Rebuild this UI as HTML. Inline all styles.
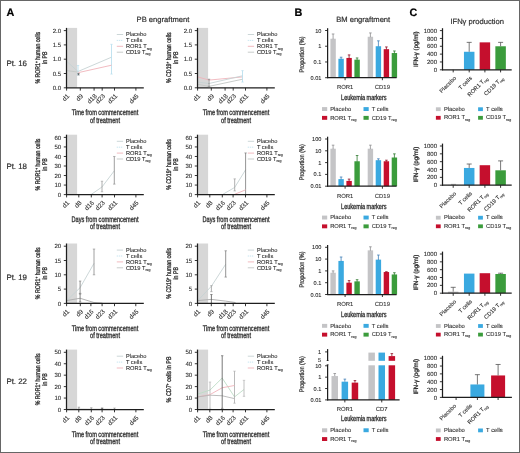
<!DOCTYPE html>
<html><head><meta charset="utf-8"><style>
html,body{margin:0;padding:0;background:#fff;}
#fig{position:relative;width:520px;height:453px;overflow:hidden;box-sizing:border-box;border:1px solid #666666;}
svg{position:absolute;left:-1px;top:-1px;font-family:"Liberation Sans", sans-serif;will-change:transform;text-rendering:geometricPrecision;}
</style></head><body><div id="fig">
<svg width="520" height="453" viewBox="0 0 520 453">
<rect x="0" y="0" width="520" height="453" fill="#ffffff"/>
<text x="6.40" y="15.60" font-size="10.8" text-anchor="start" fill="#000" stroke="#000" stroke-width="0.2" font-weight="bold" >A</text>
<text x="294.40" y="15.60" font-size="10.8" text-anchor="start" fill="#000" stroke="#000" stroke-width="0.2" font-weight="bold" >B</text>
<text x="409.60" y="15.60" font-size="10.8" text-anchor="start" fill="#000" stroke="#000" stroke-width="0.2" font-weight="bold" >C</text>
<text x="163.00" y="21.50" font-size="7.6" text-anchor="middle" fill="#303030" stroke="#303030" stroke-width="0.2" font-weight="normal" >PB engraftment</text>
<text x="363.20" y="21.50" font-size="7.6" text-anchor="middle" fill="#303030" stroke="#303030" stroke-width="0.2" font-weight="normal" >BM engraftment</text>
<text x="477.20" y="23.50" font-size="7.6" text-anchor="middle" fill="#303030" stroke="#303030" stroke-width="0.2" font-weight="normal" >IFNγ production</text>
<text x="6.40" y="65.85" font-size="7.9" text-anchor="start" fill="#303030" stroke="#303030" stroke-width="0.2" font-weight="normal" >Pt. 16</text>
<text x="6.40" y="168.85" font-size="7.9" text-anchor="start" fill="#303030" stroke="#303030" stroke-width="0.2" font-weight="normal" >Pt. 18</text>
<text x="6.40" y="280.40" font-size="7.9" text-anchor="start" fill="#303030" stroke="#303030" stroke-width="0.2" font-weight="normal" >Pt. 19</text>
<text x="6.40" y="384.40" font-size="7.9" text-anchor="start" fill="#303030" stroke="#303030" stroke-width="0.2" font-weight="normal" >Pt. 22</text>
<rect x="66.50" y="27.90" width="10.60" height="59.90" fill="#d7d7d7"/>
<polyline points="66.80,61.49 78.00,71.50 111.50,57.20" fill="none" stroke="#c6d2d4" stroke-width="0.9" />
<line x1="111.50" y1="74.07" x2="111.50" y2="44.33" stroke="#b3dcec" stroke-width="0.8" />
<line x1="110.30" y1="44.33" x2="112.70" y2="44.33" stroke="#b3dcec" stroke-width="0.6" />
<line x1="110.30" y1="74.07" x2="112.70" y2="74.07" stroke="#b3dcec" stroke-width="0.6" />
<line x1="78.00" y1="74.93" x2="78.00" y2="65.49" stroke="#b3dcec" stroke-width="0.8" />
<line x1="76.80" y1="65.49" x2="79.20" y2="65.49" stroke="#b3dcec" stroke-width="0.6" />
<line x1="76.80" y1="74.93" x2="79.20" y2="74.93" stroke="#b3dcec" stroke-width="0.6" />
<polyline points="78.30,72.64 111.50,65.21" fill="none" stroke="#efb3ba" stroke-width="0.9" />
<polyline points="66.80,70.64 78.00,72.07" fill="none" stroke="#c3c7c5" stroke-width="0.9" />
<line x1="78.50" y1="74.93" x2="78.50" y2="73.50" stroke="#555" stroke-width="0.8" />
<line x1="77.30" y1="73.50" x2="79.70" y2="73.50" stroke="#555" stroke-width="0.6" />
<line x1="77.30" y1="74.93" x2="79.70" y2="74.93" stroke="#555" stroke-width="0.6" />
<line x1="66.50" y1="27.90" x2="66.50" y2="88.30" stroke="#1e1e1e" stroke-width="1.25" />
<line x1="66.00" y1="87.80" x2="143.80" y2="87.80" stroke="#1e1e1e" stroke-width="1.25" />
<line x1="63.80" y1="87.80" x2="66.50" y2="87.80" stroke="#1e1e1e" stroke-width="0.9" />
<text x="61.20" y="89.95" font-size="6.1" text-anchor="end" fill="#303030" stroke="#303030" stroke-width="0.1" font-weight="normal" >0.0</text>
<line x1="63.80" y1="73.50" x2="66.50" y2="73.50" stroke="#1e1e1e" stroke-width="0.9" />
<text x="61.20" y="75.65" font-size="6.1" text-anchor="end" fill="#303030" stroke="#303030" stroke-width="0.1" font-weight="normal" >0.5</text>
<line x1="63.80" y1="59.20" x2="66.50" y2="59.20" stroke="#1e1e1e" stroke-width="0.9" />
<text x="61.20" y="61.35" font-size="6.1" text-anchor="end" fill="#303030" stroke="#303030" stroke-width="0.1" font-weight="normal" >1.0</text>
<line x1="63.80" y1="44.90" x2="66.50" y2="44.90" stroke="#1e1e1e" stroke-width="0.9" />
<text x="61.20" y="47.05" font-size="6.1" text-anchor="end" fill="#303030" stroke="#303030" stroke-width="0.1" font-weight="normal" >1.5</text>
<line x1="63.80" y1="30.60" x2="66.50" y2="30.60" stroke="#1e1e1e" stroke-width="0.9" />
<text x="61.20" y="32.75" font-size="6.1" text-anchor="end" fill="#303030" stroke="#303030" stroke-width="0.1" font-weight="normal" >2.0</text>
<line x1="66.60" y1="87.80" x2="66.60" y2="90.60" stroke="#1e1e1e" stroke-width="0.9" />
<text transform="translate(69.80,96.50) rotate(-45) scale(1.0,1)" font-size="6.3" text-anchor="end" fill="#303030" stroke="#303030" stroke-width="0.1">d1</text>
<line x1="80.30" y1="87.80" x2="80.30" y2="90.60" stroke="#1e1e1e" stroke-width="0.9" />
<text transform="translate(83.50,96.50) rotate(-45) scale(1.0,1)" font-size="6.3" text-anchor="end" fill="#303030" stroke="#303030" stroke-width="0.1">d9</text>
<line x1="94.10" y1="87.80" x2="94.10" y2="90.60" stroke="#1e1e1e" stroke-width="0.9" />
<text transform="translate(97.30,96.50) rotate(-45) scale(1.0,1)" font-size="6.3" text-anchor="end" fill="#303030" stroke="#303030" stroke-width="0.1">d18</text>
<line x1="102.20" y1="87.80" x2="102.20" y2="90.60" stroke="#1e1e1e" stroke-width="0.9" />
<text transform="translate(105.40,96.50) rotate(-45) scale(1.0,1)" font-size="6.3" text-anchor="end" fill="#303030" stroke="#303030" stroke-width="0.1">d23</text>
<line x1="114.50" y1="87.80" x2="114.50" y2="90.60" stroke="#1e1e1e" stroke-width="0.9" />
<text transform="translate(117.70,96.50) rotate(-45) scale(1.0,1)" font-size="6.3" text-anchor="end" fill="#303030" stroke="#303030" stroke-width="0.1">d31</text>
<line x1="135.90" y1="87.80" x2="135.90" y2="90.60" stroke="#1e1e1e" stroke-width="0.9" />
<text transform="translate(139.10,96.50) rotate(-45) scale(1.0,1)" font-size="6.3" text-anchor="end" fill="#303030" stroke="#303030" stroke-width="0.1">d45</text>
<text transform="translate(105.00,115.10) scale(0.7,1)" font-size="8" text-anchor="middle" fill="#303030" stroke="#303030" stroke-width="0.34" font-weight="normal" >Time from commencement</text>
<text transform="translate(105.00,122.50) scale(0.7,1)" font-size="8" text-anchor="middle" fill="#303030" stroke="#303030" stroke-width="0.34" font-weight="normal" >of treatment</text>
<text transform="translate(39.90,57.70) rotate(-90) scale(0.77,1)" font-size="6.8" text-anchor="middle" fill="#303030" stroke="#303030" stroke-width="0.34">% ROR1<tspan font-size="4" dy="-2">+</tspan><tspan dy="2"> human cells</tspan></text>
<text transform="translate(46.90,57.70) rotate(-90) scale(0.77,1)" font-size="6.8" text-anchor="middle" fill="#303030" stroke="#303030" stroke-width="0.34">in PB</text>
<line x1="116.80" y1="34.50" x2="123.10" y2="34.50" stroke="#c6d2d4" stroke-width="0.9" />
<text x="125.90" y="36.40" font-size="5.7" text-anchor="start" fill="#303030" stroke="#303030" stroke-width="0.1" font-weight="normal" >Placebo</text>
<line x1="116.80" y1="40.40" x2="123.10" y2="40.40" stroke="#b3dcec" stroke-width="0.9" stroke-dasharray="1,1"/>
<text x="125.90" y="42.30" font-size="5.7" text-anchor="start" fill="#303030" stroke="#303030" stroke-width="0.1" font-weight="normal" >T cells</text>
<line x1="116.80" y1="46.30" x2="123.10" y2="46.30" stroke="#efb3ba" stroke-width="0.9" />
<text x="125.90" y="48.20" font-size="5.7" text-anchor="start" fill="#303030" stroke="#303030" stroke-width="0.1" font-weight="normal" >ROR1 T<tspan font-size="3.6" dy="1.3">reg</tspan></text>
<line x1="116.80" y1="52.20" x2="123.10" y2="52.20" stroke="#c3c7c5" stroke-width="0.9" />
<text x="125.90" y="54.10" font-size="5.7" text-anchor="start" fill="#303030" stroke="#303030" stroke-width="0.1" font-weight="normal" >CD19 T<tspan font-size="3.6" dy="1.3">reg</tspan></text>
<rect x="197.50" y="27.90" width="10.60" height="59.90" fill="#d7d7d7"/>
<polyline points="197.80,76.93 209.00,80.08 242.50,76.93" fill="none" stroke="#efb3ba" stroke-width="0.9" />
<polyline points="197.80,82.08 209.00,83.51 242.50,75.79" fill="none" stroke="#c6d2d4" stroke-width="0.9" />
<line x1="242.50" y1="82.08" x2="242.50" y2="70.64" stroke="#b3dcec" stroke-width="0.8" />
<line x1="241.30" y1="70.64" x2="243.70" y2="70.64" stroke="#b3dcec" stroke-width="0.6" />
<line x1="241.30" y1="82.08" x2="243.70" y2="82.08" stroke="#b3dcec" stroke-width="0.6" />
<polyline points="197.80,84.37 209.00,86.37 242.50,79.22" fill="none" stroke="#c3c7c5" stroke-width="0.9" />
<line x1="209.00" y1="86.37" x2="209.00" y2="79.22" stroke="#777" stroke-width="0.8" />
<line x1="207.80" y1="79.22" x2="210.20" y2="79.22" stroke="#777" stroke-width="0.6" />
<line x1="207.80" y1="86.37" x2="210.20" y2="86.37" stroke="#777" stroke-width="0.6" />
<line x1="197.50" y1="27.90" x2="197.50" y2="88.30" stroke="#1e1e1e" stroke-width="1.25" />
<line x1="197.00" y1="87.80" x2="274.80" y2="87.80" stroke="#1e1e1e" stroke-width="1.25" />
<line x1="194.80" y1="87.80" x2="197.50" y2="87.80" stroke="#1e1e1e" stroke-width="0.9" />
<text x="192.20" y="89.95" font-size="6.1" text-anchor="end" fill="#303030" stroke="#303030" stroke-width="0.1" font-weight="normal" >0.0</text>
<line x1="194.80" y1="73.50" x2="197.50" y2="73.50" stroke="#1e1e1e" stroke-width="0.9" />
<text x="192.20" y="75.65" font-size="6.1" text-anchor="end" fill="#303030" stroke="#303030" stroke-width="0.1" font-weight="normal" >0.5</text>
<line x1="194.80" y1="59.20" x2="197.50" y2="59.20" stroke="#1e1e1e" stroke-width="0.9" />
<text x="192.20" y="61.35" font-size="6.1" text-anchor="end" fill="#303030" stroke="#303030" stroke-width="0.1" font-weight="normal" >1.0</text>
<line x1="194.80" y1="44.90" x2="197.50" y2="44.90" stroke="#1e1e1e" stroke-width="0.9" />
<text x="192.20" y="47.05" font-size="6.1" text-anchor="end" fill="#303030" stroke="#303030" stroke-width="0.1" font-weight="normal" >1.5</text>
<line x1="194.80" y1="30.60" x2="197.50" y2="30.60" stroke="#1e1e1e" stroke-width="0.9" />
<text x="192.20" y="32.75" font-size="6.1" text-anchor="end" fill="#303030" stroke="#303030" stroke-width="0.1" font-weight="normal" >2.0</text>
<line x1="197.60" y1="87.80" x2="197.60" y2="90.60" stroke="#1e1e1e" stroke-width="0.9" />
<text transform="translate(200.80,96.50) rotate(-45) scale(1.0,1)" font-size="6.3" text-anchor="end" fill="#303030" stroke="#303030" stroke-width="0.1">d1</text>
<line x1="211.30" y1="87.80" x2="211.30" y2="90.60" stroke="#1e1e1e" stroke-width="0.9" />
<text transform="translate(214.50,96.50) rotate(-45) scale(1.0,1)" font-size="6.3" text-anchor="end" fill="#303030" stroke="#303030" stroke-width="0.1">d9</text>
<line x1="225.10" y1="87.80" x2="225.10" y2="90.60" stroke="#1e1e1e" stroke-width="0.9" />
<text transform="translate(228.30,96.50) rotate(-45) scale(1.0,1)" font-size="6.3" text-anchor="end" fill="#303030" stroke="#303030" stroke-width="0.1">d18</text>
<line x1="233.20" y1="87.80" x2="233.20" y2="90.60" stroke="#1e1e1e" stroke-width="0.9" />
<text transform="translate(236.40,96.50) rotate(-45) scale(1.0,1)" font-size="6.3" text-anchor="end" fill="#303030" stroke="#303030" stroke-width="0.1">d23</text>
<line x1="245.50" y1="87.80" x2="245.50" y2="90.60" stroke="#1e1e1e" stroke-width="0.9" />
<text transform="translate(248.70,96.50) rotate(-45) scale(1.0,1)" font-size="6.3" text-anchor="end" fill="#303030" stroke="#303030" stroke-width="0.1">d31</text>
<line x1="266.90" y1="87.80" x2="266.90" y2="90.60" stroke="#1e1e1e" stroke-width="0.9" />
<text transform="translate(270.10,96.50) rotate(-45) scale(1.0,1)" font-size="6.3" text-anchor="end" fill="#303030" stroke="#303030" stroke-width="0.1">d45</text>
<text transform="translate(236.00,115.10) scale(0.7,1)" font-size="8" text-anchor="middle" fill="#303030" stroke="#303030" stroke-width="0.34" font-weight="normal" >Time from commencement</text>
<text transform="translate(236.00,122.50) scale(0.7,1)" font-size="8" text-anchor="middle" fill="#303030" stroke="#303030" stroke-width="0.34" font-weight="normal" >of treatment</text>
<text transform="translate(170.90,57.70) rotate(-90) scale(0.77,1)" font-size="6.8" text-anchor="middle" fill="#303030" stroke="#303030" stroke-width="0.34">% CD19<tspan font-size="4" dy="-2">+</tspan><tspan dy="2"> human cells</tspan></text>
<text transform="translate(177.90,57.70) rotate(-90) scale(0.77,1)" font-size="6.8" text-anchor="middle" fill="#303030" stroke="#303030" stroke-width="0.34">in PB</text>
<line x1="247.80" y1="34.50" x2="254.10" y2="34.50" stroke="#c6d2d4" stroke-width="0.9" />
<text x="256.90" y="36.40" font-size="5.7" text-anchor="start" fill="#303030" stroke="#303030" stroke-width="0.1" font-weight="normal" >Placebo</text>
<line x1="247.80" y1="40.40" x2="254.10" y2="40.40" stroke="#b3dcec" stroke-width="0.9" stroke-dasharray="1,1"/>
<text x="256.90" y="42.30" font-size="5.7" text-anchor="start" fill="#303030" stroke="#303030" stroke-width="0.1" font-weight="normal" >T cells</text>
<line x1="247.80" y1="46.30" x2="254.10" y2="46.30" stroke="#efb3ba" stroke-width="0.9" />
<text x="256.90" y="48.20" font-size="5.7" text-anchor="start" fill="#303030" stroke="#303030" stroke-width="0.1" font-weight="normal" >ROR1 T<tspan font-size="3.6" dy="1.3">reg</tspan></text>
<line x1="247.80" y1="52.20" x2="254.10" y2="52.20" stroke="#c3c7c5" stroke-width="0.9" />
<text x="256.90" y="54.10" font-size="5.7" text-anchor="start" fill="#303030" stroke="#303030" stroke-width="0.1" font-weight="normal" >CD19 T<tspan font-size="3.6" dy="1.3">reg</tspan></text>
<rect x="66.50" y="134.70" width="10.60" height="59.90" fill="#d7d7d7"/>
<polyline points="91.00,194.60 102.00,186.97 114.30,170.77" fill="none" stroke="#c6d2d4" stroke-width="0.9" />
<line x1="102.00" y1="191.74" x2="102.00" y2="181.25" stroke="#999" stroke-width="0.8" />
<line x1="100.80" y1="181.25" x2="103.20" y2="181.25" stroke="#999" stroke-width="0.6" />
<line x1="100.80" y1="191.74" x2="103.20" y2="191.74" stroke="#999" stroke-width="0.6" />
<line x1="114.30" y1="184.11" x2="114.30" y2="156.47" stroke="#888" stroke-width="0.8" />
<line x1="113.10" y1="156.47" x2="115.50" y2="156.47" stroke="#888" stroke-width="0.6" />
<line x1="113.10" y1="184.11" x2="115.50" y2="184.11" stroke="#888" stroke-width="0.6" />
<line x1="66.50" y1="134.70" x2="66.50" y2="195.10" stroke="#1e1e1e" stroke-width="1.25" />
<line x1="66.00" y1="194.60" x2="143.80" y2="194.60" stroke="#1e1e1e" stroke-width="1.25" />
<line x1="63.80" y1="194.60" x2="66.50" y2="194.60" stroke="#1e1e1e" stroke-width="0.9" />
<text x="61.20" y="196.75" font-size="6.1" text-anchor="end" fill="#303030" stroke="#303030" stroke-width="0.1" font-weight="normal" >0</text>
<line x1="63.80" y1="185.07" x2="66.50" y2="185.07" stroke="#1e1e1e" stroke-width="0.9" />
<text x="61.20" y="187.22" font-size="6.1" text-anchor="end" fill="#303030" stroke="#303030" stroke-width="0.1" font-weight="normal" >10</text>
<line x1="63.80" y1="175.53" x2="66.50" y2="175.53" stroke="#1e1e1e" stroke-width="0.9" />
<text x="61.20" y="177.68" font-size="6.1" text-anchor="end" fill="#303030" stroke="#303030" stroke-width="0.1" font-weight="normal" >20</text>
<line x1="63.80" y1="166.00" x2="66.50" y2="166.00" stroke="#1e1e1e" stroke-width="0.9" />
<text x="61.20" y="168.15" font-size="6.1" text-anchor="end" fill="#303030" stroke="#303030" stroke-width="0.1" font-weight="normal" >30</text>
<line x1="63.80" y1="156.47" x2="66.50" y2="156.47" stroke="#1e1e1e" stroke-width="0.9" />
<text x="61.20" y="158.62" font-size="6.1" text-anchor="end" fill="#303030" stroke="#303030" stroke-width="0.1" font-weight="normal" >40</text>
<line x1="63.80" y1="146.93" x2="66.50" y2="146.93" stroke="#1e1e1e" stroke-width="0.9" />
<text x="61.20" y="149.08" font-size="6.1" text-anchor="end" fill="#303030" stroke="#303030" stroke-width="0.1" font-weight="normal" >50</text>
<line x1="63.80" y1="137.40" x2="66.50" y2="137.40" stroke="#1e1e1e" stroke-width="0.9" />
<text x="61.20" y="139.55" font-size="6.1" text-anchor="end" fill="#303030" stroke="#303030" stroke-width="0.1" font-weight="normal" >60</text>
<line x1="66.60" y1="194.60" x2="66.60" y2="197.40" stroke="#1e1e1e" stroke-width="0.9" />
<text transform="translate(69.80,203.30) rotate(-45) scale(1.0,1)" font-size="6.3" text-anchor="end" fill="#303030" stroke="#303030" stroke-width="0.1">d1</text>
<line x1="78.80" y1="194.60" x2="78.80" y2="197.40" stroke="#1e1e1e" stroke-width="0.9" />
<text transform="translate(82.00,203.30) rotate(-45) scale(1.0,1)" font-size="6.3" text-anchor="end" fill="#303030" stroke="#303030" stroke-width="0.1">d8</text>
<line x1="91.30" y1="194.60" x2="91.30" y2="197.40" stroke="#1e1e1e" stroke-width="0.9" />
<text transform="translate(94.50,203.30) rotate(-45) scale(1.0,1)" font-size="6.3" text-anchor="end" fill="#303030" stroke="#303030" stroke-width="0.1">d16</text>
<line x1="102.10" y1="194.60" x2="102.10" y2="197.40" stroke="#1e1e1e" stroke-width="0.9" />
<text transform="translate(105.30,203.30) rotate(-45) scale(1.0,1)" font-size="6.3" text-anchor="end" fill="#303030" stroke="#303030" stroke-width="0.1">d23</text>
<line x1="114.50" y1="194.60" x2="114.50" y2="197.40" stroke="#1e1e1e" stroke-width="0.9" />
<text transform="translate(117.70,203.30) rotate(-45) scale(1.0,1)" font-size="6.3" text-anchor="end" fill="#303030" stroke="#303030" stroke-width="0.1">d31</text>
<line x1="135.90" y1="194.60" x2="135.90" y2="197.40" stroke="#1e1e1e" stroke-width="0.9" />
<text transform="translate(139.10,203.30) rotate(-45) scale(1.0,1)" font-size="6.3" text-anchor="end" fill="#303030" stroke="#303030" stroke-width="0.1">d45</text>
<text transform="translate(105.00,221.90) scale(0.7,1)" font-size="8" text-anchor="middle" fill="#303030" stroke="#303030" stroke-width="0.34" font-weight="normal" >Days from commencement</text>
<text transform="translate(105.00,229.30) scale(0.7,1)" font-size="8" text-anchor="middle" fill="#303030" stroke="#303030" stroke-width="0.34" font-weight="normal" >of treatment</text>
<text transform="translate(39.90,164.50) rotate(-90) scale(0.77,1)" font-size="6.8" text-anchor="middle" fill="#303030" stroke="#303030" stroke-width="0.34">% ROR1<tspan font-size="4" dy="-2">+</tspan><tspan dy="2"> human cells</tspan></text>
<text transform="translate(46.90,164.50) rotate(-90) scale(0.77,1)" font-size="6.8" text-anchor="middle" fill="#303030" stroke="#303030" stroke-width="0.34">in PB</text>
<line x1="116.80" y1="141.30" x2="123.10" y2="141.30" stroke="#c6d2d4" stroke-width="0.9" />
<text x="125.90" y="143.20" font-size="5.7" text-anchor="start" fill="#303030" stroke="#303030" stroke-width="0.1" font-weight="normal" >Placebo</text>
<line x1="116.80" y1="147.20" x2="123.10" y2="147.20" stroke="#b3dcec" stroke-width="0.9" stroke-dasharray="1,1"/>
<text x="125.90" y="149.10" font-size="5.7" text-anchor="start" fill="#303030" stroke="#303030" stroke-width="0.1" font-weight="normal" >T cells</text>
<line x1="116.80" y1="153.10" x2="123.10" y2="153.10" stroke="#efb3ba" stroke-width="0.9" />
<text x="125.90" y="155.00" font-size="5.7" text-anchor="start" fill="#303030" stroke="#303030" stroke-width="0.1" font-weight="normal" >ROR1 T<tspan font-size="3.6" dy="1.3">reg</tspan></text>
<line x1="116.80" y1="159.00" x2="123.10" y2="159.00" stroke="#c3c7c5" stroke-width="0.9" />
<text x="125.90" y="160.90" font-size="5.7" text-anchor="start" fill="#303030" stroke="#303030" stroke-width="0.1" font-weight="normal" >CD19 T<tspan font-size="3.6" dy="1.3">reg</tspan></text>
<rect x="197.50" y="134.70" width="10.60" height="59.90" fill="#d7d7d7"/>
<polyline points="222.40,194.60 234.70,187.45 245.60,169.81" fill="none" stroke="#c6d2d4" stroke-width="0.9" />
<line x1="234.70" y1="190.88" x2="234.70" y2="178.87" stroke="#999" stroke-width="0.8" />
<line x1="233.50" y1="178.87" x2="235.90" y2="178.87" stroke="#999" stroke-width="0.6" />
<line x1="233.50" y1="190.88" x2="235.90" y2="190.88" stroke="#999" stroke-width="0.6" />
<line x1="245.60" y1="194.60" x2="245.60" y2="152.94" stroke="#777" stroke-width="0.8" />
<line x1="244.40" y1="152.94" x2="246.80" y2="152.94" stroke="#777" stroke-width="0.6" />
<line x1="244.40" y1="194.60" x2="246.80" y2="194.60" stroke="#777" stroke-width="0.6" />
<polyline points="234.70,194.31 245.60,189.83" fill="none" stroke="#efb3ba" stroke-width="0.9" />
<line x1="197.50" y1="134.70" x2="197.50" y2="195.10" stroke="#1e1e1e" stroke-width="1.25" />
<line x1="197.00" y1="194.60" x2="274.80" y2="194.60" stroke="#1e1e1e" stroke-width="1.25" />
<line x1="194.80" y1="194.60" x2="197.50" y2="194.60" stroke="#1e1e1e" stroke-width="0.9" />
<text x="192.20" y="196.75" font-size="6.1" text-anchor="end" fill="#303030" stroke="#303030" stroke-width="0.1" font-weight="normal" >0</text>
<line x1="194.80" y1="185.07" x2="197.50" y2="185.07" stroke="#1e1e1e" stroke-width="0.9" />
<text x="192.20" y="187.22" font-size="6.1" text-anchor="end" fill="#303030" stroke="#303030" stroke-width="0.1" font-weight="normal" >10</text>
<line x1="194.80" y1="175.53" x2="197.50" y2="175.53" stroke="#1e1e1e" stroke-width="0.9" />
<text x="192.20" y="177.68" font-size="6.1" text-anchor="end" fill="#303030" stroke="#303030" stroke-width="0.1" font-weight="normal" >20</text>
<line x1="194.80" y1="166.00" x2="197.50" y2="166.00" stroke="#1e1e1e" stroke-width="0.9" />
<text x="192.20" y="168.15" font-size="6.1" text-anchor="end" fill="#303030" stroke="#303030" stroke-width="0.1" font-weight="normal" >30</text>
<line x1="194.80" y1="156.47" x2="197.50" y2="156.47" stroke="#1e1e1e" stroke-width="0.9" />
<text x="192.20" y="158.62" font-size="6.1" text-anchor="end" fill="#303030" stroke="#303030" stroke-width="0.1" font-weight="normal" >40</text>
<line x1="194.80" y1="146.93" x2="197.50" y2="146.93" stroke="#1e1e1e" stroke-width="0.9" />
<text x="192.20" y="149.08" font-size="6.1" text-anchor="end" fill="#303030" stroke="#303030" stroke-width="0.1" font-weight="normal" >50</text>
<line x1="194.80" y1="137.40" x2="197.50" y2="137.40" stroke="#1e1e1e" stroke-width="0.9" />
<text x="192.20" y="139.55" font-size="6.1" text-anchor="end" fill="#303030" stroke="#303030" stroke-width="0.1" font-weight="normal" >60</text>
<line x1="197.60" y1="194.60" x2="197.60" y2="197.40" stroke="#1e1e1e" stroke-width="0.9" />
<text transform="translate(200.80,203.30) rotate(-45) scale(1.0,1)" font-size="6.3" text-anchor="end" fill="#303030" stroke="#303030" stroke-width="0.1">d1</text>
<line x1="209.80" y1="194.60" x2="209.80" y2="197.40" stroke="#1e1e1e" stroke-width="0.9" />
<text transform="translate(213.00,203.30) rotate(-45) scale(1.0,1)" font-size="6.3" text-anchor="end" fill="#303030" stroke="#303030" stroke-width="0.1">d8</text>
<line x1="222.30" y1="194.60" x2="222.30" y2="197.40" stroke="#1e1e1e" stroke-width="0.9" />
<text transform="translate(225.50,203.30) rotate(-45) scale(1.0,1)" font-size="6.3" text-anchor="end" fill="#303030" stroke="#303030" stroke-width="0.1">d16</text>
<line x1="233.10" y1="194.60" x2="233.10" y2="197.40" stroke="#1e1e1e" stroke-width="0.9" />
<text transform="translate(236.30,203.30) rotate(-45) scale(1.0,1)" font-size="6.3" text-anchor="end" fill="#303030" stroke="#303030" stroke-width="0.1">d23</text>
<line x1="245.50" y1="194.60" x2="245.50" y2="197.40" stroke="#1e1e1e" stroke-width="0.9" />
<text transform="translate(248.70,203.30) rotate(-45) scale(1.0,1)" font-size="6.3" text-anchor="end" fill="#303030" stroke="#303030" stroke-width="0.1">d31</text>
<line x1="266.90" y1="194.60" x2="266.90" y2="197.40" stroke="#1e1e1e" stroke-width="0.9" />
<text transform="translate(270.10,203.30) rotate(-45) scale(1.0,1)" font-size="6.3" text-anchor="end" fill="#303030" stroke="#303030" stroke-width="0.1">d45</text>
<text transform="translate(236.00,221.90) scale(0.7,1)" font-size="8" text-anchor="middle" fill="#303030" stroke="#303030" stroke-width="0.34" font-weight="normal" >Days from commencement</text>
<text transform="translate(236.00,229.30) scale(0.7,1)" font-size="8" text-anchor="middle" fill="#303030" stroke="#303030" stroke-width="0.34" font-weight="normal" >of treatment</text>
<text transform="translate(170.90,164.50) rotate(-90) scale(0.77,1)" font-size="6.8" text-anchor="middle" fill="#303030" stroke="#303030" stroke-width="0.34">% CD19<tspan font-size="4" dy="-2">+</tspan><tspan dy="2"> human cells</tspan></text>
<text transform="translate(177.90,164.50) rotate(-90) scale(0.77,1)" font-size="6.8" text-anchor="middle" fill="#303030" stroke="#303030" stroke-width="0.34">in PB</text>
<line x1="247.80" y1="141.30" x2="254.10" y2="141.30" stroke="#c6d2d4" stroke-width="0.9" />
<text x="256.90" y="143.20" font-size="5.7" text-anchor="start" fill="#303030" stroke="#303030" stroke-width="0.1" font-weight="normal" >Placebo</text>
<line x1="247.80" y1="147.20" x2="254.10" y2="147.20" stroke="#b3dcec" stroke-width="0.9" stroke-dasharray="1,1"/>
<text x="256.90" y="149.10" font-size="5.7" text-anchor="start" fill="#303030" stroke="#303030" stroke-width="0.1" font-weight="normal" >T cells</text>
<line x1="247.80" y1="153.10" x2="254.10" y2="153.10" stroke="#efb3ba" stroke-width="0.9" />
<text x="256.90" y="155.00" font-size="5.7" text-anchor="start" fill="#303030" stroke="#303030" stroke-width="0.1" font-weight="normal" >ROR1 T<tspan font-size="3.6" dy="1.3">reg</tspan></text>
<line x1="247.80" y1="159.00" x2="254.10" y2="159.00" stroke="#c3c7c5" stroke-width="0.9" />
<text x="256.90" y="160.90" font-size="5.7" text-anchor="start" fill="#303030" stroke="#303030" stroke-width="0.1" font-weight="normal" >CD19 T<tspan font-size="3.6" dy="1.3">reg</tspan></text>
<rect x="66.50" y="243.50" width="10.60" height="59.90" fill="#d7d7d7"/>
<polyline points="66.80,300.54 80.10,287.67 94.00,263.36" fill="none" stroke="#c6d2d4" stroke-width="0.9" />
<line x1="94.00" y1="274.80" x2="94.00" y2="249.06" stroke="#888" stroke-width="0.8" />
<line x1="92.80" y1="249.06" x2="95.20" y2="249.06" stroke="#888" stroke-width="0.6" />
<line x1="92.80" y1="274.80" x2="95.20" y2="274.80" stroke="#888" stroke-width="0.6" />
<line x1="80.10" y1="293.39" x2="80.10" y2="281.09" stroke="#777" stroke-width="0.8" />
<line x1="78.90" y1="281.09" x2="81.30" y2="281.09" stroke="#777" stroke-width="0.6" />
<line x1="78.90" y1="293.39" x2="81.30" y2="293.39" stroke="#777" stroke-width="0.6" />
<polyline points="66.80,300.54 80.10,298.25 94.00,302.54 102.50,303.11" fill="none" stroke="#aaaaaa" stroke-width="0.9" />
<line x1="80.10" y1="301.97" x2="80.10" y2="293.96" stroke="#666" stroke-width="0.8" />
<line x1="78.90" y1="293.96" x2="81.30" y2="293.96" stroke="#666" stroke-width="0.6" />
<line x1="78.90" y1="301.97" x2="81.30" y2="301.97" stroke="#666" stroke-width="0.6" />
<line x1="66.50" y1="243.50" x2="66.50" y2="303.90" stroke="#1e1e1e" stroke-width="1.25" />
<line x1="66.00" y1="303.40" x2="143.80" y2="303.40" stroke="#1e1e1e" stroke-width="1.25" />
<line x1="63.80" y1="303.40" x2="66.50" y2="303.40" stroke="#1e1e1e" stroke-width="0.9" />
<text x="61.20" y="305.55" font-size="6.1" text-anchor="end" fill="#303030" stroke="#303030" stroke-width="0.1" font-weight="normal" >0</text>
<line x1="63.80" y1="289.10" x2="66.50" y2="289.10" stroke="#1e1e1e" stroke-width="0.9" />
<text x="61.20" y="291.25" font-size="6.1" text-anchor="end" fill="#303030" stroke="#303030" stroke-width="0.1" font-weight="normal" >5</text>
<line x1="63.80" y1="274.80" x2="66.50" y2="274.80" stroke="#1e1e1e" stroke-width="0.9" />
<text x="61.20" y="276.95" font-size="6.1" text-anchor="end" fill="#303030" stroke="#303030" stroke-width="0.1" font-weight="normal" >10</text>
<line x1="63.80" y1="260.50" x2="66.50" y2="260.50" stroke="#1e1e1e" stroke-width="0.9" />
<text x="61.20" y="262.65" font-size="6.1" text-anchor="end" fill="#303030" stroke="#303030" stroke-width="0.1" font-weight="normal" >15</text>
<line x1="63.80" y1="246.20" x2="66.50" y2="246.20" stroke="#1e1e1e" stroke-width="0.9" />
<text x="61.20" y="248.35" font-size="6.1" text-anchor="end" fill="#303030" stroke="#303030" stroke-width="0.1" font-weight="normal" >20</text>
<line x1="66.60" y1="303.40" x2="66.60" y2="306.20" stroke="#1e1e1e" stroke-width="0.9" />
<text transform="translate(69.80,312.10) rotate(-45) scale(1.0,1)" font-size="6.3" text-anchor="end" fill="#303030" stroke="#303030" stroke-width="0.1">d1</text>
<line x1="80.30" y1="303.40" x2="80.30" y2="306.20" stroke="#1e1e1e" stroke-width="0.9" />
<text transform="translate(83.50,312.10) rotate(-45) scale(1.0,1)" font-size="6.3" text-anchor="end" fill="#303030" stroke="#303030" stroke-width="0.1">d9</text>
<line x1="90.90" y1="303.40" x2="90.90" y2="306.20" stroke="#1e1e1e" stroke-width="0.9" />
<text transform="translate(94.10,312.10) rotate(-45) scale(1.0,1)" font-size="6.3" text-anchor="end" fill="#303030" stroke="#303030" stroke-width="0.1">d16</text>
<line x1="102.10" y1="303.40" x2="102.10" y2="306.20" stroke="#1e1e1e" stroke-width="0.9" />
<text transform="translate(105.30,312.10) rotate(-45) scale(1.0,1)" font-size="6.3" text-anchor="end" fill="#303030" stroke="#303030" stroke-width="0.1">d23</text>
<line x1="114.50" y1="303.40" x2="114.50" y2="306.20" stroke="#1e1e1e" stroke-width="0.9" />
<text transform="translate(117.70,312.10) rotate(-45) scale(1.0,1)" font-size="6.3" text-anchor="end" fill="#303030" stroke="#303030" stroke-width="0.1">d31</text>
<line x1="135.80" y1="303.40" x2="135.80" y2="306.20" stroke="#1e1e1e" stroke-width="0.9" />
<text transform="translate(139.00,312.10) rotate(-45) scale(1.0,1)" font-size="6.3" text-anchor="end" fill="#303030" stroke="#303030" stroke-width="0.1">d45</text>
<text transform="translate(105.00,330.70) scale(0.7,1)" font-size="8" text-anchor="middle" fill="#303030" stroke="#303030" stroke-width="0.34" font-weight="normal" >Time from commencement</text>
<text transform="translate(105.00,338.10) scale(0.7,1)" font-size="8" text-anchor="middle" fill="#303030" stroke="#303030" stroke-width="0.34" font-weight="normal" >of treatment</text>
<text transform="translate(39.90,273.30) rotate(-90) scale(0.77,1)" font-size="6.8" text-anchor="middle" fill="#303030" stroke="#303030" stroke-width="0.34">% ROR1<tspan font-size="4" dy="-2">+</tspan><tspan dy="2"> human cells</tspan></text>
<text transform="translate(46.90,273.30) rotate(-90) scale(0.77,1)" font-size="6.8" text-anchor="middle" fill="#303030" stroke="#303030" stroke-width="0.34">in PB</text>
<line x1="116.80" y1="250.10" x2="123.10" y2="250.10" stroke="#c6d2d4" stroke-width="0.9" />
<text x="125.90" y="252.00" font-size="5.7" text-anchor="start" fill="#303030" stroke="#303030" stroke-width="0.1" font-weight="normal" >Placebo</text>
<line x1="116.80" y1="256.00" x2="123.10" y2="256.00" stroke="#b3dcec" stroke-width="0.9" stroke-dasharray="1,1"/>
<text x="125.90" y="257.90" font-size="5.7" text-anchor="start" fill="#303030" stroke="#303030" stroke-width="0.1" font-weight="normal" >T cells</text>
<line x1="116.80" y1="261.90" x2="123.10" y2="261.90" stroke="#efb3ba" stroke-width="0.9" />
<text x="125.90" y="263.80" font-size="5.7" text-anchor="start" fill="#303030" stroke="#303030" stroke-width="0.1" font-weight="normal" >ROR1 T<tspan font-size="3.6" dy="1.3">reg</tspan></text>
<line x1="116.80" y1="267.80" x2="123.10" y2="267.80" stroke="#c3c7c5" stroke-width="0.9" />
<text x="125.90" y="269.70" font-size="5.7" text-anchor="start" fill="#303030" stroke="#303030" stroke-width="0.1" font-weight="normal" >CD19 T<tspan font-size="3.6" dy="1.3">reg</tspan></text>
<rect x="197.50" y="243.50" width="10.60" height="59.90" fill="#d7d7d7"/>
<polyline points="197.80,300.54 211.40,286.24 225.70,264.22" fill="none" stroke="#c6d2d4" stroke-width="0.9" />
<line x1="225.70" y1="277.09" x2="225.70" y2="250.78" stroke="#777" stroke-width="0.8" />
<line x1="224.50" y1="250.78" x2="226.90" y2="250.78" stroke="#777" stroke-width="0.6" />
<line x1="224.50" y1="277.09" x2="226.90" y2="277.09" stroke="#777" stroke-width="0.6" />
<line x1="211.40" y1="291.67" x2="211.40" y2="285.67" stroke="#999" stroke-width="0.8" />
<line x1="210.20" y1="285.67" x2="212.60" y2="285.67" stroke="#999" stroke-width="0.6" />
<line x1="210.20" y1="291.67" x2="212.60" y2="291.67" stroke="#999" stroke-width="0.6" />
<polyline points="197.80,300.54 211.40,299.40 225.70,301.11 235.50,302.54" fill="none" stroke="#aaaaaa" stroke-width="0.9" />
<line x1="211.40" y1="303.40" x2="211.40" y2="294.53" stroke="#555" stroke-width="0.8" />
<line x1="210.20" y1="294.53" x2="212.60" y2="294.53" stroke="#555" stroke-width="0.6" />
<line x1="210.20" y1="303.40" x2="212.60" y2="303.40" stroke="#555" stroke-width="0.6" />
<line x1="197.50" y1="243.50" x2="197.50" y2="303.90" stroke="#1e1e1e" stroke-width="1.25" />
<line x1="197.00" y1="303.40" x2="274.80" y2="303.40" stroke="#1e1e1e" stroke-width="1.25" />
<line x1="194.80" y1="303.40" x2="197.50" y2="303.40" stroke="#1e1e1e" stroke-width="0.9" />
<text x="192.20" y="305.55" font-size="6.1" text-anchor="end" fill="#303030" stroke="#303030" stroke-width="0.1" font-weight="normal" >0</text>
<line x1="194.80" y1="289.10" x2="197.50" y2="289.10" stroke="#1e1e1e" stroke-width="0.9" />
<text x="192.20" y="291.25" font-size="6.1" text-anchor="end" fill="#303030" stroke="#303030" stroke-width="0.1" font-weight="normal" >5</text>
<line x1="194.80" y1="274.80" x2="197.50" y2="274.80" stroke="#1e1e1e" stroke-width="0.9" />
<text x="192.20" y="276.95" font-size="6.1" text-anchor="end" fill="#303030" stroke="#303030" stroke-width="0.1" font-weight="normal" >10</text>
<line x1="194.80" y1="260.50" x2="197.50" y2="260.50" stroke="#1e1e1e" stroke-width="0.9" />
<text x="192.20" y="262.65" font-size="6.1" text-anchor="end" fill="#303030" stroke="#303030" stroke-width="0.1" font-weight="normal" >15</text>
<line x1="194.80" y1="246.20" x2="197.50" y2="246.20" stroke="#1e1e1e" stroke-width="0.9" />
<text x="192.20" y="248.35" font-size="6.1" text-anchor="end" fill="#303030" stroke="#303030" stroke-width="0.1" font-weight="normal" >20</text>
<line x1="197.60" y1="303.40" x2="197.60" y2="306.20" stroke="#1e1e1e" stroke-width="0.9" />
<text transform="translate(200.80,312.10) rotate(-45) scale(1.0,1)" font-size="6.3" text-anchor="end" fill="#303030" stroke="#303030" stroke-width="0.1">d1</text>
<line x1="211.30" y1="303.40" x2="211.30" y2="306.20" stroke="#1e1e1e" stroke-width="0.9" />
<text transform="translate(214.50,312.10) rotate(-45) scale(1.0,1)" font-size="6.3" text-anchor="end" fill="#303030" stroke="#303030" stroke-width="0.1">d9</text>
<line x1="225.10" y1="303.40" x2="225.10" y2="306.20" stroke="#1e1e1e" stroke-width="0.9" />
<text transform="translate(228.30,312.10) rotate(-45) scale(1.0,1)" font-size="6.3" text-anchor="end" fill="#303030" stroke="#303030" stroke-width="0.1">d18</text>
<line x1="233.20" y1="303.40" x2="233.20" y2="306.20" stroke="#1e1e1e" stroke-width="0.9" />
<text transform="translate(236.40,312.10) rotate(-45) scale(1.0,1)" font-size="6.3" text-anchor="end" fill="#303030" stroke="#303030" stroke-width="0.1">d23</text>
<line x1="245.50" y1="303.40" x2="245.50" y2="306.20" stroke="#1e1e1e" stroke-width="0.9" />
<text transform="translate(248.70,312.10) rotate(-45) scale(1.0,1)" font-size="6.3" text-anchor="end" fill="#303030" stroke="#303030" stroke-width="0.1">d31</text>
<line x1="266.90" y1="303.40" x2="266.90" y2="306.20" stroke="#1e1e1e" stroke-width="0.9" />
<text transform="translate(270.10,312.10) rotate(-45) scale(1.0,1)" font-size="6.3" text-anchor="end" fill="#303030" stroke="#303030" stroke-width="0.1">d45</text>
<text transform="translate(236.00,330.70) scale(0.7,1)" font-size="8" text-anchor="middle" fill="#303030" stroke="#303030" stroke-width="0.34" font-weight="normal" >Time from commencement</text>
<text transform="translate(236.00,338.10) scale(0.7,1)" font-size="8" text-anchor="middle" fill="#303030" stroke="#303030" stroke-width="0.34" font-weight="normal" >of treatment</text>
<text transform="translate(170.90,273.30) rotate(-90) scale(0.77,1)" font-size="6.8" text-anchor="middle" fill="#303030" stroke="#303030" stroke-width="0.34">% CD19<tspan font-size="4" dy="-2">+</tspan><tspan dy="2"> human cells</tspan></text>
<text transform="translate(177.90,273.30) rotate(-90) scale(0.77,1)" font-size="6.8" text-anchor="middle" fill="#303030" stroke="#303030" stroke-width="0.34">in PB</text>
<line x1="247.80" y1="250.10" x2="254.10" y2="250.10" stroke="#c6d2d4" stroke-width="0.9" />
<text x="256.90" y="252.00" font-size="5.7" text-anchor="start" fill="#303030" stroke="#303030" stroke-width="0.1" font-weight="normal" >Placebo</text>
<line x1="247.80" y1="256.00" x2="254.10" y2="256.00" stroke="#b3dcec" stroke-width="0.9" stroke-dasharray="1,1"/>
<text x="256.90" y="257.90" font-size="5.7" text-anchor="start" fill="#303030" stroke="#303030" stroke-width="0.1" font-weight="normal" >T cells</text>
<line x1="247.80" y1="261.90" x2="254.10" y2="261.90" stroke="#efb3ba" stroke-width="0.9" />
<text x="256.90" y="263.80" font-size="5.7" text-anchor="start" fill="#303030" stroke="#303030" stroke-width="0.1" font-weight="normal" >ROR1 T<tspan font-size="3.6" dy="1.3">reg</tspan></text>
<line x1="247.80" y1="267.80" x2="254.10" y2="267.80" stroke="#c3c7c5" stroke-width="0.9" />
<text x="256.90" y="269.70" font-size="5.7" text-anchor="start" fill="#303030" stroke="#303030" stroke-width="0.1" font-weight="normal" >CD19 T<tspan font-size="3.6" dy="1.3">reg</tspan></text>
<rect x="66.50" y="349.60" width="10.60" height="59.90" fill="#d7d7d7"/>
<polyline points="66.80,409.27 79.00,409.16 91.50,409.27 102.50,409.27 113.50,409.39" fill="none" stroke="#aaaaaa" stroke-width="0.9" />
<line x1="78.90" y1="409.50" x2="78.90" y2="407.21" stroke="#888" stroke-width="0.8" />
<line x1="77.70" y1="407.21" x2="80.10" y2="407.21" stroke="#888" stroke-width="0.6" />
<line x1="77.70" y1="409.50" x2="80.10" y2="409.50" stroke="#888" stroke-width="0.6" />
<line x1="91.30" y1="409.50" x2="91.30" y2="407.78" stroke="#888" stroke-width="0.8" />
<line x1="90.10" y1="407.78" x2="92.50" y2="407.78" stroke="#888" stroke-width="0.6" />
<line x1="90.10" y1="409.50" x2="92.50" y2="409.50" stroke="#888" stroke-width="0.6" />
<line x1="102.10" y1="409.50" x2="102.10" y2="408.13" stroke="#333" stroke-width="0.8" />
<line x1="100.90" y1="408.13" x2="103.30" y2="408.13" stroke="#333" stroke-width="0.6" />
<line x1="100.90" y1="409.50" x2="103.30" y2="409.50" stroke="#333" stroke-width="0.6" />
<line x1="114.50" y1="409.50" x2="114.50" y2="408.13" stroke="#888" stroke-width="0.8" />
<line x1="113.30" y1="408.13" x2="115.70" y2="408.13" stroke="#888" stroke-width="0.6" />
<line x1="113.30" y1="409.50" x2="115.70" y2="409.50" stroke="#888" stroke-width="0.6" />
<line x1="66.50" y1="349.60" x2="66.50" y2="410.00" stroke="#1e1e1e" stroke-width="1.25" />
<line x1="66.00" y1="409.50" x2="143.80" y2="409.50" stroke="#1e1e1e" stroke-width="1.25" />
<line x1="63.80" y1="409.50" x2="66.50" y2="409.50" stroke="#1e1e1e" stroke-width="0.9" />
<text x="61.20" y="411.65" font-size="6.1" text-anchor="end" fill="#303030" stroke="#303030" stroke-width="0.1" font-weight="normal" >0</text>
<line x1="63.80" y1="398.06" x2="66.50" y2="398.06" stroke="#1e1e1e" stroke-width="0.9" />
<text x="61.20" y="400.21" font-size="6.1" text-anchor="end" fill="#303030" stroke="#303030" stroke-width="0.1" font-weight="normal" >10</text>
<line x1="63.80" y1="386.62" x2="66.50" y2="386.62" stroke="#1e1e1e" stroke-width="0.9" />
<text x="61.20" y="388.77" font-size="6.1" text-anchor="end" fill="#303030" stroke="#303030" stroke-width="0.1" font-weight="normal" >20</text>
<line x1="63.80" y1="375.18" x2="66.50" y2="375.18" stroke="#1e1e1e" stroke-width="0.9" />
<text x="61.20" y="377.33" font-size="6.1" text-anchor="end" fill="#303030" stroke="#303030" stroke-width="0.1" font-weight="normal" >30</text>
<line x1="63.80" y1="363.74" x2="66.50" y2="363.74" stroke="#1e1e1e" stroke-width="0.9" />
<text x="61.20" y="365.89" font-size="6.1" text-anchor="end" fill="#303030" stroke="#303030" stroke-width="0.1" font-weight="normal" >40</text>
<line x1="63.80" y1="352.30" x2="66.50" y2="352.30" stroke="#1e1e1e" stroke-width="0.9" />
<text x="61.20" y="354.45" font-size="6.1" text-anchor="end" fill="#303030" stroke="#303030" stroke-width="0.1" font-weight="normal" >50</text>
<line x1="66.60" y1="409.50" x2="66.60" y2="412.30" stroke="#1e1e1e" stroke-width="0.9" />
<text transform="translate(69.80,418.20) rotate(-45) scale(1.0,1)" font-size="6.3" text-anchor="end" fill="#303030" stroke="#303030" stroke-width="0.1">d1</text>
<line x1="78.80" y1="409.50" x2="78.80" y2="412.30" stroke="#1e1e1e" stroke-width="0.9" />
<text transform="translate(82.00,418.20) rotate(-45) scale(1.0,1)" font-size="6.3" text-anchor="end" fill="#303030" stroke="#303030" stroke-width="0.1">d8</text>
<line x1="91.30" y1="409.50" x2="91.30" y2="412.30" stroke="#1e1e1e" stroke-width="0.9" />
<text transform="translate(94.50,418.20) rotate(-45) scale(1.0,1)" font-size="6.3" text-anchor="end" fill="#303030" stroke="#303030" stroke-width="0.1">d16</text>
<line x1="102.10" y1="409.50" x2="102.10" y2="412.30" stroke="#1e1e1e" stroke-width="0.9" />
<text transform="translate(105.30,418.20) rotate(-45) scale(1.0,1)" font-size="6.3" text-anchor="end" fill="#303030" stroke="#303030" stroke-width="0.1">d23</text>
<line x1="114.50" y1="409.50" x2="114.50" y2="412.30" stroke="#1e1e1e" stroke-width="0.9" />
<text transform="translate(117.70,418.20) rotate(-45) scale(1.0,1)" font-size="6.3" text-anchor="end" fill="#303030" stroke="#303030" stroke-width="0.1">d31</text>
<line x1="135.90" y1="409.50" x2="135.90" y2="412.30" stroke="#1e1e1e" stroke-width="0.9" />
<text transform="translate(139.10,418.20) rotate(-45) scale(1.0,1)" font-size="6.3" text-anchor="end" fill="#303030" stroke="#303030" stroke-width="0.1">d45</text>
<text transform="translate(105.00,436.80) scale(0.7,1)" font-size="8" text-anchor="middle" fill="#303030" stroke="#303030" stroke-width="0.34" font-weight="normal" >Time from commencement</text>
<text transform="translate(105.00,444.20) scale(0.7,1)" font-size="8" text-anchor="middle" fill="#303030" stroke="#303030" stroke-width="0.34" font-weight="normal" >of treatment</text>
<text transform="translate(39.90,379.40) rotate(-90) scale(0.77,1)" font-size="6.8" text-anchor="middle" fill="#303030" stroke="#303030" stroke-width="0.34">% ROR1<tspan font-size="4" dy="-2">+</tspan><tspan dy="2"> human cells</tspan></text>
<text transform="translate(46.90,379.40) rotate(-90) scale(0.77,1)" font-size="6.8" text-anchor="middle" fill="#303030" stroke="#303030" stroke-width="0.34">in PB</text>
<line x1="116.80" y1="356.20" x2="123.10" y2="356.20" stroke="#c6d2d4" stroke-width="0.9" />
<text x="125.90" y="358.10" font-size="5.7" text-anchor="start" fill="#303030" stroke="#303030" stroke-width="0.1" font-weight="normal" >Placebo</text>
<line x1="116.80" y1="362.10" x2="123.10" y2="362.10" stroke="#b3dcec" stroke-width="0.9" stroke-dasharray="1,1"/>
<text x="125.90" y="364.00" font-size="5.7" text-anchor="start" fill="#303030" stroke="#303030" stroke-width="0.1" font-weight="normal" >T cells</text>
<line x1="116.80" y1="368.00" x2="123.10" y2="368.00" stroke="#efb3ba" stroke-width="0.9" />
<text x="125.90" y="369.90" font-size="5.7" text-anchor="start" fill="#303030" stroke="#303030" stroke-width="0.1" font-weight="normal" >ROR1 T<tspan font-size="3.6" dy="1.3">reg</tspan></text>
<rect x="197.50" y="349.60" width="10.60" height="59.90" fill="#d7d7d7"/>
<polyline points="197.80,394.06 210.00,390.05 222.20,378.04 234.50,396.92 244.00,389.48" fill="none" stroke="#bddcc6" stroke-width="0.9" />
<line x1="210.00" y1="408.36" x2="210.00" y2="382.04" stroke="#b0b0b0" stroke-width="0.8" />
<line x1="208.80" y1="382.04" x2="211.20" y2="382.04" stroke="#b0b0b0" stroke-width="0.6" />
<line x1="208.80" y1="408.36" x2="211.20" y2="408.36" stroke="#b0b0b0" stroke-width="0.6" />
<line x1="234.50" y1="403.21" x2="234.50" y2="371.18" stroke="#a8a8a8" stroke-width="0.8" />
<line x1="233.30" y1="371.18" x2="235.70" y2="371.18" stroke="#a8a8a8" stroke-width="0.6" />
<line x1="233.30" y1="403.21" x2="235.70" y2="403.21" stroke="#a8a8a8" stroke-width="0.6" />
<line x1="244.00" y1="396.34" x2="244.00" y2="380.33" stroke="#b0b0b0" stroke-width="0.8" />
<line x1="242.80" y1="380.33" x2="245.20" y2="380.33" stroke="#b0b0b0" stroke-width="0.6" />
<line x1="242.80" y1="396.34" x2="245.20" y2="396.34" stroke="#b0b0b0" stroke-width="0.6" />
<polyline points="197.80,396.92 210.00,394.63 222.20,387.76 234.50,385.48" fill="none" stroke="#efb3ba" stroke-width="0.9" />
<polyline points="197.80,396.92 210.00,395.20 222.20,395.77 234.50,398.63" fill="none" stroke="#b5b5b5" stroke-width="0.9" />
<line x1="222.20" y1="408.36" x2="222.20" y2="355.73" stroke="#555" stroke-width="0.8" />
<line x1="221.00" y1="355.73" x2="223.40" y2="355.73" stroke="#555" stroke-width="0.6" />
<line x1="221.00" y1="408.36" x2="223.40" y2="408.36" stroke="#555" stroke-width="0.6" />
<line x1="197.50" y1="349.60" x2="197.50" y2="410.00" stroke="#1e1e1e" stroke-width="1.25" />
<line x1="197.00" y1="409.50" x2="274.80" y2="409.50" stroke="#1e1e1e" stroke-width="1.25" />
<line x1="194.80" y1="409.50" x2="197.50" y2="409.50" stroke="#1e1e1e" stroke-width="0.9" />
<text x="192.20" y="411.65" font-size="6.1" text-anchor="end" fill="#303030" stroke="#303030" stroke-width="0.1" font-weight="normal" >0</text>
<line x1="194.80" y1="398.06" x2="197.50" y2="398.06" stroke="#1e1e1e" stroke-width="0.9" />
<text x="192.20" y="400.21" font-size="6.1" text-anchor="end" fill="#303030" stroke="#303030" stroke-width="0.1" font-weight="normal" >10</text>
<line x1="194.80" y1="386.62" x2="197.50" y2="386.62" stroke="#1e1e1e" stroke-width="0.9" />
<text x="192.20" y="388.77" font-size="6.1" text-anchor="end" fill="#303030" stroke="#303030" stroke-width="0.1" font-weight="normal" >20</text>
<line x1="194.80" y1="375.18" x2="197.50" y2="375.18" stroke="#1e1e1e" stroke-width="0.9" />
<text x="192.20" y="377.33" font-size="6.1" text-anchor="end" fill="#303030" stroke="#303030" stroke-width="0.1" font-weight="normal" >30</text>
<line x1="194.80" y1="363.74" x2="197.50" y2="363.74" stroke="#1e1e1e" stroke-width="0.9" />
<text x="192.20" y="365.89" font-size="6.1" text-anchor="end" fill="#303030" stroke="#303030" stroke-width="0.1" font-weight="normal" >40</text>
<line x1="194.80" y1="352.30" x2="197.50" y2="352.30" stroke="#1e1e1e" stroke-width="0.9" />
<text x="192.20" y="354.45" font-size="6.1" text-anchor="end" fill="#303030" stroke="#303030" stroke-width="0.1" font-weight="normal" >50</text>
<line x1="197.60" y1="409.50" x2="197.60" y2="412.30" stroke="#1e1e1e" stroke-width="0.9" />
<text transform="translate(200.80,418.20) rotate(-45) scale(1.0,1)" font-size="6.3" text-anchor="end" fill="#303030" stroke="#303030" stroke-width="0.1">d1</text>
<line x1="209.80" y1="409.50" x2="209.80" y2="412.30" stroke="#1e1e1e" stroke-width="0.9" />
<text transform="translate(213.00,418.20) rotate(-45) scale(1.0,1)" font-size="6.3" text-anchor="end" fill="#303030" stroke="#303030" stroke-width="0.1">d8</text>
<line x1="222.30" y1="409.50" x2="222.30" y2="412.30" stroke="#1e1e1e" stroke-width="0.9" />
<text transform="translate(225.50,418.20) rotate(-45) scale(1.0,1)" font-size="6.3" text-anchor="end" fill="#303030" stroke="#303030" stroke-width="0.1">d16</text>
<line x1="233.10" y1="409.50" x2="233.10" y2="412.30" stroke="#1e1e1e" stroke-width="0.9" />
<text transform="translate(236.30,418.20) rotate(-45) scale(1.0,1)" font-size="6.3" text-anchor="end" fill="#303030" stroke="#303030" stroke-width="0.1">d23</text>
<line x1="245.50" y1="409.50" x2="245.50" y2="412.30" stroke="#1e1e1e" stroke-width="0.9" />
<text transform="translate(248.70,418.20) rotate(-45) scale(1.0,1)" font-size="6.3" text-anchor="end" fill="#303030" stroke="#303030" stroke-width="0.1">d31</text>
<line x1="266.90" y1="409.50" x2="266.90" y2="412.30" stroke="#1e1e1e" stroke-width="0.9" />
<text transform="translate(270.10,418.20) rotate(-45) scale(1.0,1)" font-size="6.3" text-anchor="end" fill="#303030" stroke="#303030" stroke-width="0.1">d45</text>
<text transform="translate(236.00,436.80) scale(0.7,1)" font-size="8" text-anchor="middle" fill="#303030" stroke="#303030" stroke-width="0.34" font-weight="normal" >Time from commencement</text>
<text transform="translate(236.00,444.20) scale(0.7,1)" font-size="8" text-anchor="middle" fill="#303030" stroke="#303030" stroke-width="0.34" font-weight="normal" >of treatment</text>
<text transform="translate(170.90,379.40) rotate(-90) scale(0.8,1)" font-size="6.8" text-anchor="middle" fill="#303030" stroke="#303030" stroke-width="0.34">% CD7<tspan font-size="4" dy="-2">+</tspan><tspan dy="2"> cells in PB</tspan></text>
<line x1="247.80" y1="356.20" x2="254.10" y2="356.20" stroke="#c6d2d4" stroke-width="0.9" />
<text x="256.90" y="358.10" font-size="5.7" text-anchor="start" fill="#303030" stroke="#303030" stroke-width="0.1" font-weight="normal" >Placebo</text>
<line x1="247.80" y1="362.10" x2="254.10" y2="362.10" stroke="#b3dcec" stroke-width="0.9" stroke-dasharray="1,1"/>
<text x="256.90" y="364.00" font-size="5.7" text-anchor="start" fill="#303030" stroke="#303030" stroke-width="0.1" font-weight="normal" >T cells</text>
<line x1="247.80" y1="368.00" x2="254.10" y2="368.00" stroke="#efb3ba" stroke-width="0.9" />
<text x="256.90" y="369.90" font-size="5.7" text-anchor="start" fill="#303030" stroke="#303030" stroke-width="0.1" font-weight="normal" >ROR1 T<tspan font-size="3.6" dy="1.3">reg</tspan></text>
<rect x="330.40" y="38.73" width="5.40" height="38.97" fill="#c4c4c6"/>
<line x1="333.10" y1="33.99" x2="333.10" y2="39.13" stroke="#8e8e90" stroke-width="0.8" />
<line x1="331.80" y1="33.99" x2="334.40" y2="33.99" stroke="#8e8e90" stroke-width="0.8" />
<rect x="338.40" y="58.76" width="5.40" height="18.94" fill="#3aa9e0"/>
<line x1="341.10" y1="57.23" x2="341.10" y2="59.16" stroke="#3f7fb8" stroke-width="0.8" />
<line x1="339.80" y1="57.23" x2="342.40" y2="57.23" stroke="#3f7fb8" stroke-width="0.8" />
<rect x="346.40" y="57.95" width="5.40" height="19.75" fill="#c50f2d"/>
<line x1="349.10" y1="54.93" x2="349.10" y2="58.35" stroke="#8e0c22" stroke-width="0.8" />
<line x1="347.80" y1="54.93" x2="350.40" y2="54.93" stroke="#8e0c22" stroke-width="0.8" />
<rect x="354.40" y="59.67" width="5.40" height="18.03" fill="#3b9c3c"/>
<line x1="357.10" y1="57.95" x2="357.10" y2="60.07" stroke="#2e7a30" stroke-width="0.8" />
<line x1="355.80" y1="57.95" x2="358.40" y2="57.95" stroke="#2e7a30" stroke-width="0.8" />
<rect x="367.70" y="36.76" width="5.40" height="40.94" fill="#c4c4c6"/>
<line x1="370.40" y1="32.94" x2="370.40" y2="37.16" stroke="#8e8e90" stroke-width="0.8" />
<line x1="369.10" y1="32.94" x2="371.70" y2="32.94" stroke="#8e8e90" stroke-width="0.8" />
<rect x="375.70" y="46.23" width="5.40" height="31.47" fill="#3aa9e0"/>
<line x1="378.40" y1="40.85" x2="378.40" y2="46.63" stroke="#3f7fb8" stroke-width="0.8" />
<line x1="377.10" y1="40.85" x2="379.70" y2="40.85" stroke="#3f7fb8" stroke-width="0.8" />
<rect x="383.70" y="49.18" width="5.40" height="28.52" fill="#c50f2d"/>
<line x1="386.40" y1="46.95" x2="386.40" y2="49.58" stroke="#8e0c22" stroke-width="0.8" />
<line x1="385.10" y1="46.95" x2="387.70" y2="46.95" stroke="#8e0c22" stroke-width="0.8" />
<rect x="391.70" y="53.03" width="5.40" height="24.67" fill="#3b9c3c"/>
<line x1="394.40" y1="50.97" x2="394.40" y2="53.43" stroke="#2e7a30" stroke-width="0.8" />
<line x1="393.10" y1="50.97" x2="395.70" y2="50.97" stroke="#2e7a30" stroke-width="0.8" />
<line x1="327.60" y1="28.20" x2="327.60" y2="78.20" stroke="#1e1e1e" stroke-width="1.25" />
<line x1="327.10" y1="77.70" x2="396.60" y2="77.70" stroke="#1e1e1e" stroke-width="1.25" />
<line x1="325.10" y1="77.70" x2="327.60" y2="77.70" stroke="#1e1e1e" stroke-width="0.9" />
<text x="321.40" y="79.70" font-size="5.6" text-anchor="end" fill="#303030" stroke="#303030" stroke-width="0.1" font-weight="normal" >0.01</text>
<line x1="325.10" y1="61.97" x2="327.60" y2="61.97" stroke="#1e1e1e" stroke-width="0.9" />
<text x="321.40" y="63.97" font-size="5.6" text-anchor="end" fill="#303030" stroke="#303030" stroke-width="0.1" font-weight="normal" >0.1</text>
<line x1="325.10" y1="46.23" x2="327.60" y2="46.23" stroke="#1e1e1e" stroke-width="0.9" />
<text x="321.40" y="48.23" font-size="5.6" text-anchor="end" fill="#303030" stroke="#303030" stroke-width="0.1" font-weight="normal" >1</text>
<line x1="325.10" y1="30.50" x2="327.60" y2="30.50" stroke="#1e1e1e" stroke-width="0.9" />
<text x="321.40" y="32.50" font-size="5.6" text-anchor="end" fill="#303030" stroke="#303030" stroke-width="0.1" font-weight="normal" >10</text>
<line x1="345.10" y1="77.70" x2="345.10" y2="80.20" stroke="#1e1e1e" stroke-width="0.9" />
<text x="345.10" y="89.30" font-size="5.9" text-anchor="middle" fill="#303030" stroke="#303030" stroke-width="0.1" font-weight="normal" >ROR1</text>
<line x1="382.40" y1="77.70" x2="382.40" y2="80.20" stroke="#1e1e1e" stroke-width="0.9" />
<text x="382.40" y="89.30" font-size="5.9" text-anchor="middle" fill="#303030" stroke="#303030" stroke-width="0.1" font-weight="normal" >CD19</text>
<text transform="translate(363.80,100.00) scale(0.726,1)" font-size="7.6" text-anchor="middle" fill="#303030" stroke="#303030" stroke-width="0.34" font-weight="normal" >Leukemia markers</text>
<text transform="translate(304.30,54.50) rotate(-90) scale(0.85,1)" font-size="6.6" text-anchor="middle" fill="#303030" stroke="#303030" stroke-width="0.25">Proportion (%)</text>
<rect x="322.00" y="107.10" width="5.20" height="3.90" fill="#c4c4c6"/>
<text x="330.20" y="110.70" font-size="5.8" text-anchor="start" fill="#303030" stroke="#303030" stroke-width="0.1" font-weight="normal" >Placebo</text>
<rect x="363.50" y="107.10" width="5.20" height="3.90" fill="#3aa9e0"/>
<text x="371.70" y="110.70" font-size="5.8" text-anchor="start" fill="#303030" stroke="#303030" stroke-width="0.1" font-weight="normal" >T cells</text>
<rect x="322.00" y="115.90" width="5.20" height="3.90" fill="#c50f2d"/>
<text x="330.20" y="119.50" font-size="5.8" text-anchor="start" fill="#303030" stroke="#303030" stroke-width="0.1" font-weight="normal" >ROR1 T<tspan font-size="3.6" dy="1.3">reg</tspan></text>
<rect x="363.50" y="115.90" width="5.20" height="3.90" fill="#3b9c3c"/>
<text x="371.70" y="119.50" font-size="5.8" text-anchor="start" fill="#303030" stroke="#303030" stroke-width="0.1" font-weight="normal" >CD19 T<tspan font-size="3.6" dy="1.3">reg</tspan></text>
<rect x="330.40" y="148.72" width="5.40" height="37.48" fill="#c4c4c6"/>
<line x1="333.10" y1="145.17" x2="333.10" y2="149.12" stroke="#8e8e90" stroke-width="0.8" />
<line x1="331.80" y1="145.17" x2="334.40" y2="145.17" stroke="#8e8e90" stroke-width="0.8" />
<rect x="338.40" y="179.10" width="5.40" height="7.10" fill="#3aa9e0"/>
<line x1="341.10" y1="177.02" x2="341.10" y2="179.50" stroke="#3f7fb8" stroke-width="0.8" />
<line x1="339.80" y1="177.02" x2="342.40" y2="177.02" stroke="#3f7fb8" stroke-width="0.8" />
<rect x="346.40" y="180.92" width="5.40" height="5.28" fill="#c50f2d"/>
<line x1="349.10" y1="179.10" x2="349.10" y2="181.32" stroke="#8e0c22" stroke-width="0.8" />
<line x1="347.80" y1="179.10" x2="350.40" y2="179.10" stroke="#8e0c22" stroke-width="0.8" />
<rect x="354.40" y="161.26" width="5.40" height="24.94" fill="#3b9c3c"/>
<line x1="357.10" y1="155.50" x2="357.10" y2="161.66" stroke="#2e7a30" stroke-width="0.8" />
<line x1="355.80" y1="155.50" x2="358.40" y2="155.50" stroke="#2e7a30" stroke-width="0.8" />
<rect x="367.70" y="148.72" width="5.40" height="37.48" fill="#c4c4c6"/>
<line x1="370.40" y1="145.17" x2="370.40" y2="149.12" stroke="#8e8e90" stroke-width="0.8" />
<line x1="369.10" y1="145.17" x2="371.70" y2="145.17" stroke="#8e8e90" stroke-width="0.8" />
<rect x="375.70" y="160.19" width="5.40" height="26.01" fill="#3aa9e0"/>
<line x1="378.40" y1="158.80" x2="378.40" y2="160.59" stroke="#3f7fb8" stroke-width="0.8" />
<line x1="377.10" y1="158.80" x2="379.70" y2="158.80" stroke="#3f7fb8" stroke-width="0.8" />
<rect x="383.70" y="161.26" width="5.40" height="24.94" fill="#c50f2d"/>
<line x1="386.40" y1="160.19" x2="386.40" y2="161.66" stroke="#8e0c22" stroke-width="0.8" />
<line x1="385.10" y1="160.19" x2="387.70" y2="160.19" stroke="#8e0c22" stroke-width="0.8" />
<rect x="391.70" y="157.51" width="5.40" height="28.69" fill="#3b9c3c"/>
<line x1="394.40" y1="153.86" x2="394.40" y2="157.91" stroke="#2e7a30" stroke-width="0.8" />
<line x1="393.10" y1="153.86" x2="395.70" y2="153.86" stroke="#2e7a30" stroke-width="0.8" />
<line x1="327.60" y1="136.70" x2="327.60" y2="186.70" stroke="#1e1e1e" stroke-width="1.25" />
<line x1="327.10" y1="186.20" x2="396.60" y2="186.20" stroke="#1e1e1e" stroke-width="1.25" />
<line x1="325.10" y1="186.20" x2="327.60" y2="186.20" stroke="#1e1e1e" stroke-width="0.9" />
<text x="321.40" y="188.20" font-size="5.6" text-anchor="end" fill="#303030" stroke="#303030" stroke-width="0.1" font-weight="normal" >0.01</text>
<line x1="325.10" y1="174.40" x2="327.60" y2="174.40" stroke="#1e1e1e" stroke-width="0.9" />
<text x="321.40" y="176.40" font-size="5.6" text-anchor="end" fill="#303030" stroke="#303030" stroke-width="0.1" font-weight="normal" >0.1</text>
<line x1="325.10" y1="162.60" x2="327.60" y2="162.60" stroke="#1e1e1e" stroke-width="0.9" />
<text x="321.40" y="164.60" font-size="5.6" text-anchor="end" fill="#303030" stroke="#303030" stroke-width="0.1" font-weight="normal" >1</text>
<line x1="325.10" y1="150.80" x2="327.60" y2="150.80" stroke="#1e1e1e" stroke-width="0.9" />
<text x="321.40" y="152.80" font-size="5.6" text-anchor="end" fill="#303030" stroke="#303030" stroke-width="0.1" font-weight="normal" >10</text>
<line x1="325.10" y1="139.00" x2="327.60" y2="139.00" stroke="#1e1e1e" stroke-width="0.9" />
<text x="321.40" y="141.00" font-size="5.6" text-anchor="end" fill="#303030" stroke="#303030" stroke-width="0.1" font-weight="normal" >100</text>
<line x1="345.10" y1="186.20" x2="345.10" y2="188.70" stroke="#1e1e1e" stroke-width="0.9" />
<text x="345.10" y="197.80" font-size="5.9" text-anchor="middle" fill="#303030" stroke="#303030" stroke-width="0.1" font-weight="normal" >ROR1</text>
<line x1="382.40" y1="186.20" x2="382.40" y2="188.70" stroke="#1e1e1e" stroke-width="0.9" />
<text x="382.40" y="197.80" font-size="5.9" text-anchor="middle" fill="#303030" stroke="#303030" stroke-width="0.1" font-weight="normal" >CD19</text>
<text transform="translate(363.80,208.50) scale(0.726,1)" font-size="7.6" text-anchor="middle" fill="#303030" stroke="#303030" stroke-width="0.34" font-weight="normal" >Leukemia markers</text>
<text transform="translate(304.30,162.20) rotate(-90) scale(0.85,1)" font-size="6.6" text-anchor="middle" fill="#303030" stroke="#303030" stroke-width="0.25">Proportion (%)</text>
<rect x="322.00" y="215.60" width="5.20" height="3.90" fill="#c4c4c6"/>
<text x="330.20" y="219.20" font-size="5.8" text-anchor="start" fill="#303030" stroke="#303030" stroke-width="0.1" font-weight="normal" >Placebo</text>
<rect x="363.50" y="215.60" width="5.20" height="3.90" fill="#3aa9e0"/>
<text x="371.70" y="219.20" font-size="5.8" text-anchor="start" fill="#303030" stroke="#303030" stroke-width="0.1" font-weight="normal" >T cells</text>
<rect x="322.00" y="224.40" width="5.20" height="3.90" fill="#c50f2d"/>
<text x="330.20" y="228.00" font-size="5.8" text-anchor="start" fill="#303030" stroke="#303030" stroke-width="0.1" font-weight="normal" >ROR1 T<tspan font-size="3.6" dy="1.3">reg</tspan></text>
<rect x="363.50" y="224.40" width="5.20" height="3.90" fill="#3b9c3c"/>
<text x="371.70" y="228.00" font-size="5.8" text-anchor="start" fill="#303030" stroke="#303030" stroke-width="0.1" font-weight="normal" >CD19 T<tspan font-size="3.6" dy="1.3">reg</tspan></text>
<rect x="330.40" y="272.73" width="5.40" height="21.77" fill="#c4c4c6"/>
<line x1="333.10" y1="270.90" x2="333.10" y2="273.13" stroke="#8e8e90" stroke-width="0.8" />
<line x1="331.80" y1="270.90" x2="334.40" y2="270.90" stroke="#8e8e90" stroke-width="0.8" />
<rect x="338.40" y="260.93" width="5.40" height="33.57" fill="#3aa9e0"/>
<line x1="341.10" y1="257.02" x2="341.10" y2="261.33" stroke="#3f7fb8" stroke-width="0.8" />
<line x1="339.80" y1="257.02" x2="342.40" y2="257.02" stroke="#3f7fb8" stroke-width="0.8" />
<rect x="346.40" y="282.70" width="5.40" height="11.80" fill="#c50f2d"/>
<line x1="349.10" y1="280.62" x2="349.10" y2="283.10" stroke="#8e0c22" stroke-width="0.8" />
<line x1="347.80" y1="280.62" x2="350.40" y2="280.62" stroke="#8e0c22" stroke-width="0.8" />
<rect x="354.40" y="281.36" width="5.40" height="13.14" fill="#3b9c3c"/>
<line x1="357.10" y1="279.69" x2="357.10" y2="281.76" stroke="#2e7a30" stroke-width="0.8" />
<line x1="355.80" y1="279.69" x2="358.40" y2="279.69" stroke="#2e7a30" stroke-width="0.8" />
<rect x="367.70" y="250.36" width="5.40" height="44.14" fill="#c4c4c6"/>
<line x1="370.40" y1="246.81" x2="370.40" y2="250.76" stroke="#8e8e90" stroke-width="0.8" />
<line x1="369.10" y1="246.81" x2="371.70" y2="246.81" stroke="#8e8e90" stroke-width="0.8" />
<rect x="375.70" y="259.64" width="5.40" height="34.86" fill="#3aa9e0"/>
<line x1="378.40" y1="255.06" x2="378.40" y2="260.04" stroke="#3f7fb8" stroke-width="0.8" />
<line x1="377.10" y1="255.06" x2="379.70" y2="255.06" stroke="#3f7fb8" stroke-width="0.8" />
<rect x="383.70" y="272.04" width="5.40" height="22.46" fill="#c50f2d"/>
<line x1="386.40" y1="271.73" x2="386.40" y2="272.44" stroke="#8e0c22" stroke-width="0.8" />
<line x1="385.10" y1="271.73" x2="387.70" y2="271.73" stroke="#8e0c22" stroke-width="0.8" />
<rect x="391.70" y="274.45" width="5.40" height="20.05" fill="#3b9c3c"/>
<line x1="394.40" y1="272.73" x2="394.40" y2="274.85" stroke="#2e7a30" stroke-width="0.8" />
<line x1="393.10" y1="272.73" x2="395.70" y2="272.73" stroke="#2e7a30" stroke-width="0.8" />
<line x1="327.60" y1="245.00" x2="327.60" y2="295.00" stroke="#1e1e1e" stroke-width="1.25" />
<line x1="327.10" y1="294.50" x2="396.60" y2="294.50" stroke="#1e1e1e" stroke-width="1.25" />
<line x1="325.10" y1="294.50" x2="327.60" y2="294.50" stroke="#1e1e1e" stroke-width="0.9" />
<text x="321.40" y="296.50" font-size="5.6" text-anchor="end" fill="#303030" stroke="#303030" stroke-width="0.1" font-weight="normal" >0.01</text>
<line x1="325.10" y1="282.70" x2="327.60" y2="282.70" stroke="#1e1e1e" stroke-width="0.9" />
<text x="321.40" y="284.70" font-size="5.6" text-anchor="end" fill="#303030" stroke="#303030" stroke-width="0.1" font-weight="normal" >0.1</text>
<line x1="325.10" y1="270.90" x2="327.60" y2="270.90" stroke="#1e1e1e" stroke-width="0.9" />
<text x="321.40" y="272.90" font-size="5.6" text-anchor="end" fill="#303030" stroke="#303030" stroke-width="0.1" font-weight="normal" >1</text>
<line x1="325.10" y1="259.10" x2="327.60" y2="259.10" stroke="#1e1e1e" stroke-width="0.9" />
<text x="321.40" y="261.10" font-size="5.6" text-anchor="end" fill="#303030" stroke="#303030" stroke-width="0.1" font-weight="normal" >10</text>
<line x1="325.10" y1="247.30" x2="327.60" y2="247.30" stroke="#1e1e1e" stroke-width="0.9" />
<text x="321.40" y="249.30" font-size="5.6" text-anchor="end" fill="#303030" stroke="#303030" stroke-width="0.1" font-weight="normal" >100</text>
<line x1="345.10" y1="294.50" x2="345.10" y2="297.00" stroke="#1e1e1e" stroke-width="0.9" />
<text x="345.10" y="306.10" font-size="5.9" text-anchor="middle" fill="#303030" stroke="#303030" stroke-width="0.1" font-weight="normal" >ROR1</text>
<line x1="382.40" y1="294.50" x2="382.40" y2="297.00" stroke="#1e1e1e" stroke-width="0.9" />
<text x="382.40" y="306.10" font-size="5.9" text-anchor="middle" fill="#303030" stroke="#303030" stroke-width="0.1" font-weight="normal" >CD19</text>
<text transform="translate(363.80,316.80) scale(0.726,1)" font-size="7.6" text-anchor="middle" fill="#303030" stroke="#303030" stroke-width="0.34" font-weight="normal" >Leukemia markers</text>
<text transform="translate(304.30,269.50) rotate(-90) scale(0.85,1)" font-size="6.6" text-anchor="middle" fill="#303030" stroke="#303030" stroke-width="0.25">Proportion (%)</text>
<rect x="322.00" y="323.90" width="5.20" height="3.90" fill="#c4c4c6"/>
<text x="330.20" y="327.50" font-size="5.8" text-anchor="start" fill="#303030" stroke="#303030" stroke-width="0.1" font-weight="normal" >Placebo</text>
<rect x="363.50" y="323.90" width="5.20" height="3.90" fill="#3aa9e0"/>
<text x="371.70" y="327.50" font-size="5.8" text-anchor="start" fill="#303030" stroke="#303030" stroke-width="0.1" font-weight="normal" >T cells</text>
<rect x="322.00" y="332.70" width="5.20" height="3.90" fill="#c50f2d"/>
<text x="330.20" y="336.30" font-size="5.8" text-anchor="start" fill="#303030" stroke="#303030" stroke-width="0.1" font-weight="normal" >ROR1 T<tspan font-size="3.6" dy="1.3">reg</tspan></text>
<rect x="363.50" y="332.70" width="5.20" height="3.90" fill="#3b9c3c"/>
<text x="371.70" y="336.30" font-size="5.8" text-anchor="start" fill="#303030" stroke="#303030" stroke-width="0.1" font-weight="normal" >CD19 T<tspan font-size="3.6" dy="1.3">reg</tspan></text>
<rect x="331.50" y="376.06" width="6.50" height="23.84" fill="#c4c4c6"/>
<line x1="334.75" y1="373.50" x2="334.75" y2="376.06" stroke="#8e8e90" stroke-width="0.8" />
<line x1="333.45" y1="373.50" x2="336.05" y2="373.50" stroke="#8e8e90" stroke-width="0.8" />
<rect x="341.60" y="381.68" width="6.50" height="18.22" fill="#3aa9e0"/>
<line x1="344.85" y1="379.14" x2="344.85" y2="381.68" stroke="#3f7fb8" stroke-width="0.8" />
<line x1="343.55" y1="379.14" x2="346.15" y2="379.14" stroke="#3f7fb8" stroke-width="0.8" />
<rect x="351.70" y="382.63" width="6.50" height="17.27" fill="#c50f2d"/>
<line x1="354.95" y1="380.58" x2="354.95" y2="382.63" stroke="#8e0c22" stroke-width="0.8" />
<line x1="353.65" y1="380.58" x2="356.25" y2="380.58" stroke="#8e0c22" stroke-width="0.8" />
<rect x="368.40" y="365.30" width="6.50" height="34.60" fill="#c4c4c6"/>
<rect x="368.40" y="352.60" width="6.50" height="8.20" fill="#c4c4c6"/>
<rect x="378.50" y="365.30" width="6.50" height="34.60" fill="#3aa9e0"/>
<rect x="378.50" y="352.60" width="6.50" height="8.20" fill="#3aa9e0"/>
<rect x="388.60" y="365.30" width="6.50" height="34.60" fill="#c50f2d"/>
<rect x="388.60" y="356.10" width="6.50" height="4.70" fill="#c50f2d"/>
<line x1="391.85" y1="353.60" x2="391.85" y2="356.10" stroke="#8e0c22" stroke-width="0.8" />
<line x1="390.55" y1="353.60" x2="393.15" y2="353.60" stroke="#8e0c22" stroke-width="0.8" />
<line x1="327.60" y1="364.70" x2="327.60" y2="400.40" stroke="#1e1e1e" stroke-width="1.25" />
<line x1="327.60" y1="349.10" x2="327.60" y2="360.60" stroke="#1e1e1e" stroke-width="1.25" />
<path d="M326.40,361 L328.80,361 L327.60,359.4 Z" fill="#1e1e1e"/>
<path d="M326.40,364.4 L328.80,364.4 L327.60,366 Z" fill="#1e1e1e"/>
<line x1="327.10" y1="399.90" x2="399.60" y2="399.90" stroke="#1e1e1e" stroke-width="1.25" />
<line x1="325.10" y1="399.90" x2="327.60" y2="399.90" stroke="#1e1e1e" stroke-width="0.9" />
<text x="321.40" y="401.90" font-size="5.6" text-anchor="end" fill="#303030" stroke="#303030" stroke-width="0.1" font-weight="normal" >0.01</text>
<line x1="325.10" y1="388.53" x2="327.60" y2="388.53" stroke="#1e1e1e" stroke-width="0.9" />
<text x="321.40" y="390.53" font-size="5.6" text-anchor="end" fill="#303030" stroke="#303030" stroke-width="0.1" font-weight="normal" >0.1</text>
<line x1="325.10" y1="377.16" x2="327.60" y2="377.16" stroke="#1e1e1e" stroke-width="0.9" />
<text x="321.40" y="379.16" font-size="5.6" text-anchor="end" fill="#303030" stroke="#303030" stroke-width="0.1" font-weight="normal" >1</text>
<line x1="325.10" y1="365.79" x2="327.60" y2="365.79" stroke="#1e1e1e" stroke-width="0.9" />
<text x="321.40" y="367.79" font-size="5.6" text-anchor="end" fill="#303030" stroke="#303030" stroke-width="0.1" font-weight="normal" >10</text>
<line x1="325.10" y1="351.90" x2="327.60" y2="351.90" stroke="#1e1e1e" stroke-width="0.9" />
<text x="321.00" y="353.90" font-size="5.6" text-anchor="end" fill="#303030" stroke="#303030" stroke-width="0.1" font-weight="normal" >1</text>
<text x="321.00" y="362.20" font-size="5.6" text-anchor="end" fill="#303030" stroke="#303030" stroke-width="0.1" font-weight="normal" >5</text>
<line x1="344.85" y1="399.90" x2="344.85" y2="402.40" stroke="#1e1e1e" stroke-width="0.9" />
<text x="344.85" y="410.60" font-size="5.9" text-anchor="middle" fill="#303030" stroke="#303030" stroke-width="0.1" font-weight="normal" >ROR1</text>
<line x1="381.75" y1="399.90" x2="381.75" y2="402.40" stroke="#1e1e1e" stroke-width="0.9" />
<text x="381.75" y="410.60" font-size="5.9" text-anchor="middle" fill="#303030" stroke="#303030" stroke-width="0.1" font-weight="normal" >CD7</text>
<text transform="translate(363.80,421.40) scale(0.726,1)" font-size="7.6" text-anchor="middle" fill="#303030" stroke="#303030" stroke-width="0.34" font-weight="normal" >Leukemia markers</text>
<text transform="translate(304.30,374.30) rotate(-90) scale(0.85,1)" font-size="6.6" text-anchor="middle" fill="#303030" stroke="#303030" stroke-width="0.25">Proportion (%)</text>
<rect x="322.00" y="428.30" width="5.20" height="3.90" fill="#c4c4c6"/>
<text x="330.20" y="431.90" font-size="5.8" text-anchor="start" fill="#303030" stroke="#303030" stroke-width="0.1" font-weight="normal" >Placebo</text>
<rect x="363.50" y="428.30" width="5.20" height="3.90" fill="#3aa9e0"/>
<text x="371.70" y="431.90" font-size="5.8" text-anchor="start" fill="#303030" stroke="#303030" stroke-width="0.1" font-weight="normal" >T cells</text>
<rect x="322.00" y="437.10" width="5.20" height="3.90" fill="#c50f2d"/>
<text x="330.20" y="440.70" font-size="5.8" text-anchor="start" fill="#303030" stroke="#303030" stroke-width="0.1" font-weight="normal" >ROR1 T<tspan font-size="3.6" dy="1.3">reg</tspan></text>
<rect x="463.95" y="51.77" width="10.50" height="18.03" fill="#3aa9e0"/>
<line x1="469.20" y1="42.36" x2="469.20" y2="51.77" stroke="#555" stroke-width="0.8" />
<line x1="466.70" y1="42.36" x2="471.70" y2="42.36" stroke="#555" stroke-width="0.8" />
<rect x="479.65" y="42.36" width="10.50" height="27.44" fill="#c50f2d"/>
<rect x="495.35" y="46.28" width="10.50" height="23.52" fill="#3b9c3c"/>
<line x1="500.60" y1="42.36" x2="500.60" y2="46.28" stroke="#555" stroke-width="0.8" />
<line x1="498.10" y1="42.36" x2="503.10" y2="42.36" stroke="#555" stroke-width="0.8" />
<line x1="442.50" y1="28.20" x2="442.50" y2="70.30" stroke="#1e1e1e" stroke-width="1.25" />
<line x1="442.00" y1="69.80" x2="511.70" y2="69.80" stroke="#1e1e1e" stroke-width="1.25" />
<line x1="439.90" y1="69.80" x2="442.50" y2="69.80" stroke="#1e1e1e" stroke-width="0.9" />
<text x="437.00" y="71.90" font-size="6.0" text-anchor="end" fill="#303030" stroke="#303030" stroke-width="0.1" font-weight="normal" >0</text>
<line x1="439.90" y1="61.96" x2="442.50" y2="61.96" stroke="#1e1e1e" stroke-width="0.9" />
<text x="437.00" y="64.06" font-size="6.0" text-anchor="end" fill="#303030" stroke="#303030" stroke-width="0.1" font-weight="normal" >200</text>
<line x1="439.90" y1="54.12" x2="442.50" y2="54.12" stroke="#1e1e1e" stroke-width="0.9" />
<text x="437.00" y="56.22" font-size="6.0" text-anchor="end" fill="#303030" stroke="#303030" stroke-width="0.1" font-weight="normal" >400</text>
<line x1="439.90" y1="46.28" x2="442.50" y2="46.28" stroke="#1e1e1e" stroke-width="0.9" />
<text x="437.00" y="48.38" font-size="6.0" text-anchor="end" fill="#303030" stroke="#303030" stroke-width="0.1" font-weight="normal" >600</text>
<line x1="439.90" y1="38.44" x2="442.50" y2="38.44" stroke="#1e1e1e" stroke-width="0.9" />
<text x="437.00" y="40.54" font-size="6.0" text-anchor="end" fill="#303030" stroke="#303030" stroke-width="0.1" font-weight="normal" >800</text>
<line x1="439.90" y1="30.60" x2="442.50" y2="30.60" stroke="#1e1e1e" stroke-width="0.9" />
<text x="437.00" y="32.70" font-size="6.0" text-anchor="end" fill="#303030" stroke="#303030" stroke-width="0.1" font-weight="normal" >1000</text>
<line x1="453.20" y1="69.80" x2="453.20" y2="72.40" stroke="#1e1e1e" stroke-width="0.9" />
<text transform="translate(456.40,78.60) rotate(-45) scale(1.0,1)" font-size="5.7" text-anchor="end" fill="#303030" stroke="#303030" stroke-width="0.1">Placebo</text>
<line x1="469.20" y1="69.80" x2="469.20" y2="72.40" stroke="#1e1e1e" stroke-width="0.9" />
<text transform="translate(472.40,78.60) rotate(-45) scale(1.0,1)" font-size="5.7" text-anchor="end" fill="#303030" stroke="#303030" stroke-width="0.1">T cells</text>
<line x1="484.90" y1="69.80" x2="484.90" y2="72.40" stroke="#1e1e1e" stroke-width="0.9" />
<text transform="translate(488.10,78.60) rotate(-45) scale(1.0,1)" font-size="5.7" text-anchor="end" fill="#303030" stroke="#303030" stroke-width="0.1">ROR1 T<tspan font-size="3.6" dy="1.3">reg</tspan></text>
<line x1="500.60" y1="69.80" x2="500.60" y2="72.40" stroke="#1e1e1e" stroke-width="0.9" />
<text transform="translate(503.80,78.60) rotate(-45) scale(1.0,1)" font-size="5.7" text-anchor="end" fill="#303030" stroke="#303030" stroke-width="0.1">CD19 T<tspan font-size="3.6" dy="1.3">reg</tspan></text>
<text transform="translate(417.50,49.20) rotate(-90) scale(0.97,1)" font-size="6.3" text-anchor="middle" fill="#303030" stroke="#303030" stroke-width="0.3">IFN-γ (pg/ml)</text>
<rect x="435.90" y="107.30" width="4.80" height="3.80" fill="#c4c4c6"/>
<text x="443.90" y="110.70" font-size="5.8" text-anchor="start" fill="#303030" stroke="#303030" stroke-width="0.1" font-weight="normal" >Placebo</text>
<rect x="478.10" y="107.30" width="4.80" height="3.80" fill="#3aa9e0"/>
<text x="486.10" y="110.70" font-size="5.8" text-anchor="start" fill="#303030" stroke="#303030" stroke-width="0.1" font-weight="normal" >T cells</text>
<rect x="435.90" y="115.90" width="4.80" height="3.80" fill="#c50f2d"/>
<text x="443.90" y="119.30" font-size="5.8" text-anchor="start" fill="#303030" stroke="#303030" stroke-width="0.1" font-weight="normal" >ROR1 T<tspan font-size="3.6" dy="1.3">reg</tspan></text>
<rect x="478.10" y="115.90" width="4.80" height="3.80" fill="#3b9c3c"/>
<text x="486.10" y="119.30" font-size="5.8" text-anchor="start" fill="#303030" stroke="#303030" stroke-width="0.1" font-weight="normal" >CD19 T<tspan font-size="3.6" dy="1.3">reg</tspan></text>
<rect x="447.95" y="184.89" width="10.50" height="0.31" fill="#c4c4c6"/>
<rect x="463.95" y="167.95" width="10.50" height="17.25" fill="#3aa9e0"/>
<line x1="469.20" y1="164.03" x2="469.20" y2="167.95" stroke="#555" stroke-width="0.8" />
<line x1="466.70" y1="164.03" x2="471.70" y2="164.03" stroke="#555" stroke-width="0.8" />
<rect x="479.65" y="165.21" width="10.50" height="19.99" fill="#c50f2d"/>
<rect x="495.35" y="170.30" width="10.50" height="14.90" fill="#3b9c3c"/>
<line x1="500.60" y1="160.90" x2="500.60" y2="170.30" stroke="#555" stroke-width="0.8" />
<line x1="498.10" y1="160.90" x2="503.10" y2="160.90" stroke="#555" stroke-width="0.8" />
<line x1="442.50" y1="143.60" x2="442.50" y2="185.70" stroke="#1e1e1e" stroke-width="1.25" />
<line x1="442.00" y1="185.20" x2="511.70" y2="185.20" stroke="#1e1e1e" stroke-width="1.25" />
<line x1="439.90" y1="185.20" x2="442.50" y2="185.20" stroke="#1e1e1e" stroke-width="0.9" />
<text x="437.00" y="187.30" font-size="6.0" text-anchor="end" fill="#303030" stroke="#303030" stroke-width="0.1" font-weight="normal" >0</text>
<line x1="439.90" y1="177.36" x2="442.50" y2="177.36" stroke="#1e1e1e" stroke-width="0.9" />
<text x="437.00" y="179.46" font-size="6.0" text-anchor="end" fill="#303030" stroke="#303030" stroke-width="0.1" font-weight="normal" >200</text>
<line x1="439.90" y1="169.52" x2="442.50" y2="169.52" stroke="#1e1e1e" stroke-width="0.9" />
<text x="437.00" y="171.62" font-size="6.0" text-anchor="end" fill="#303030" stroke="#303030" stroke-width="0.1" font-weight="normal" >400</text>
<line x1="439.90" y1="161.68" x2="442.50" y2="161.68" stroke="#1e1e1e" stroke-width="0.9" />
<text x="437.00" y="163.78" font-size="6.0" text-anchor="end" fill="#303030" stroke="#303030" stroke-width="0.1" font-weight="normal" >600</text>
<line x1="439.90" y1="153.84" x2="442.50" y2="153.84" stroke="#1e1e1e" stroke-width="0.9" />
<text x="437.00" y="155.94" font-size="6.0" text-anchor="end" fill="#303030" stroke="#303030" stroke-width="0.1" font-weight="normal" >800</text>
<line x1="439.90" y1="146.00" x2="442.50" y2="146.00" stroke="#1e1e1e" stroke-width="0.9" />
<text x="437.00" y="148.10" font-size="6.0" text-anchor="end" fill="#303030" stroke="#303030" stroke-width="0.1" font-weight="normal" >1000</text>
<line x1="453.20" y1="185.20" x2="453.20" y2="187.80" stroke="#1e1e1e" stroke-width="0.9" />
<text transform="translate(456.40,194.00) rotate(-45) scale(1.0,1)" font-size="5.7" text-anchor="end" fill="#303030" stroke="#303030" stroke-width="0.1">Placebo</text>
<line x1="469.20" y1="185.20" x2="469.20" y2="187.80" stroke="#1e1e1e" stroke-width="0.9" />
<text transform="translate(472.40,194.00) rotate(-45) scale(1.0,1)" font-size="5.7" text-anchor="end" fill="#303030" stroke="#303030" stroke-width="0.1">T cells</text>
<line x1="484.90" y1="185.20" x2="484.90" y2="187.80" stroke="#1e1e1e" stroke-width="0.9" />
<text transform="translate(488.10,194.00) rotate(-45) scale(1.0,1)" font-size="5.7" text-anchor="end" fill="#303030" stroke="#303030" stroke-width="0.1">ROR1 T<tspan font-size="3.6" dy="1.3">reg</tspan></text>
<line x1="500.60" y1="185.20" x2="500.60" y2="187.80" stroke="#1e1e1e" stroke-width="0.9" />
<text transform="translate(503.80,194.00) rotate(-45) scale(1.0,1)" font-size="5.7" text-anchor="end" fill="#303030" stroke="#303030" stroke-width="0.1">CD19 T<tspan font-size="3.6" dy="1.3">reg</tspan></text>
<text transform="translate(417.50,164.60) rotate(-90) scale(0.97,1)" font-size="6.3" text-anchor="middle" fill="#303030" stroke="#303030" stroke-width="0.3">IFN-γ (pg/ml)</text>
<rect x="435.90" y="215.80" width="4.80" height="3.80" fill="#c4c4c6"/>
<text x="443.90" y="219.20" font-size="5.8" text-anchor="start" fill="#303030" stroke="#303030" stroke-width="0.1" font-weight="normal" >Placebo</text>
<rect x="478.10" y="215.80" width="4.80" height="3.80" fill="#3aa9e0"/>
<text x="486.10" y="219.20" font-size="5.8" text-anchor="start" fill="#303030" stroke="#303030" stroke-width="0.1" font-weight="normal" >T cells</text>
<rect x="435.90" y="224.40" width="4.80" height="3.80" fill="#c50f2d"/>
<text x="443.90" y="227.80" font-size="5.8" text-anchor="start" fill="#303030" stroke="#303030" stroke-width="0.1" font-weight="normal" >ROR1 T<tspan font-size="3.6" dy="1.3">reg</tspan></text>
<rect x="478.10" y="224.40" width="4.80" height="3.80" fill="#3b9c3c"/>
<text x="486.10" y="227.80" font-size="5.8" text-anchor="start" fill="#303030" stroke="#303030" stroke-width="0.1" font-weight="normal" >CD19 T<tspan font-size="3.6" dy="1.3">reg</tspan></text>
<line x1="451.00" y1="184.40" x2="456.00" y2="184.40" stroke="#555" stroke-width="0.6" />
<rect x="447.95" y="291.63" width="10.50" height="1.57" fill="#c4c4c6"/>
<line x1="453.20" y1="287.32" x2="453.20" y2="291.63" stroke="#555" stroke-width="0.8" />
<line x1="450.70" y1="287.32" x2="455.70" y2="287.32" stroke="#555" stroke-width="0.8" />
<rect x="463.95" y="273.60" width="10.50" height="19.60" fill="#3aa9e0"/>
<rect x="479.65" y="273.21" width="10.50" height="19.99" fill="#c50f2d"/>
<rect x="495.35" y="273.99" width="10.50" height="19.21" fill="#3b9c3c"/>
<line x1="500.60" y1="273.21" x2="500.60" y2="273.99" stroke="#555" stroke-width="0.8" />
<line x1="498.10" y1="273.21" x2="503.10" y2="273.21" stroke="#555" stroke-width="0.8" />
<line x1="442.50" y1="251.60" x2="442.50" y2="293.70" stroke="#1e1e1e" stroke-width="1.25" />
<line x1="442.00" y1="293.20" x2="511.70" y2="293.20" stroke="#1e1e1e" stroke-width="1.25" />
<line x1="439.90" y1="293.20" x2="442.50" y2="293.20" stroke="#1e1e1e" stroke-width="0.9" />
<text x="437.00" y="295.30" font-size="6.0" text-anchor="end" fill="#303030" stroke="#303030" stroke-width="0.1" font-weight="normal" >0</text>
<line x1="439.90" y1="285.36" x2="442.50" y2="285.36" stroke="#1e1e1e" stroke-width="0.9" />
<text x="437.00" y="287.46" font-size="6.0" text-anchor="end" fill="#303030" stroke="#303030" stroke-width="0.1" font-weight="normal" >200</text>
<line x1="439.90" y1="277.52" x2="442.50" y2="277.52" stroke="#1e1e1e" stroke-width="0.9" />
<text x="437.00" y="279.62" font-size="6.0" text-anchor="end" fill="#303030" stroke="#303030" stroke-width="0.1" font-weight="normal" >400</text>
<line x1="439.90" y1="269.68" x2="442.50" y2="269.68" stroke="#1e1e1e" stroke-width="0.9" />
<text x="437.00" y="271.78" font-size="6.0" text-anchor="end" fill="#303030" stroke="#303030" stroke-width="0.1" font-weight="normal" >600</text>
<line x1="439.90" y1="261.84" x2="442.50" y2="261.84" stroke="#1e1e1e" stroke-width="0.9" />
<text x="437.00" y="263.94" font-size="6.0" text-anchor="end" fill="#303030" stroke="#303030" stroke-width="0.1" font-weight="normal" >800</text>
<line x1="439.90" y1="254.00" x2="442.50" y2="254.00" stroke="#1e1e1e" stroke-width="0.9" />
<text x="437.00" y="256.10" font-size="6.0" text-anchor="end" fill="#303030" stroke="#303030" stroke-width="0.1" font-weight="normal" >1000</text>
<line x1="453.20" y1="293.20" x2="453.20" y2="295.80" stroke="#1e1e1e" stroke-width="0.9" />
<text transform="translate(456.40,302.00) rotate(-45) scale(1.0,1)" font-size="5.7" text-anchor="end" fill="#303030" stroke="#303030" stroke-width="0.1">Placebo</text>
<line x1="469.20" y1="293.20" x2="469.20" y2="295.80" stroke="#1e1e1e" stroke-width="0.9" />
<text transform="translate(472.40,302.00) rotate(-45) scale(1.0,1)" font-size="5.7" text-anchor="end" fill="#303030" stroke="#303030" stroke-width="0.1">T cells</text>
<line x1="484.90" y1="293.20" x2="484.90" y2="295.80" stroke="#1e1e1e" stroke-width="0.9" />
<text transform="translate(488.10,302.00) rotate(-45) scale(1.0,1)" font-size="5.7" text-anchor="end" fill="#303030" stroke="#303030" stroke-width="0.1">ROR1 T<tspan font-size="3.6" dy="1.3">reg</tspan></text>
<line x1="500.60" y1="293.20" x2="500.60" y2="295.80" stroke="#1e1e1e" stroke-width="0.9" />
<text transform="translate(503.80,302.00) rotate(-45) scale(1.0,1)" font-size="5.7" text-anchor="end" fill="#303030" stroke="#303030" stroke-width="0.1">CD19 T<tspan font-size="3.6" dy="1.3">reg</tspan></text>
<text transform="translate(417.50,272.60) rotate(-90) scale(0.97,1)" font-size="6.3" text-anchor="middle" fill="#303030" stroke="#303030" stroke-width="0.3">IFN-γ (pg/ml)</text>
<rect x="435.90" y="324.10" width="4.80" height="3.80" fill="#c4c4c6"/>
<text x="443.90" y="327.50" font-size="5.8" text-anchor="start" fill="#303030" stroke="#303030" stroke-width="0.1" font-weight="normal" >Placebo</text>
<rect x="478.10" y="324.10" width="4.80" height="3.80" fill="#3aa9e0"/>
<text x="486.10" y="327.50" font-size="5.8" text-anchor="start" fill="#303030" stroke="#303030" stroke-width="0.1" font-weight="normal" >T cells</text>
<rect x="435.90" y="332.70" width="4.80" height="3.80" fill="#c50f2d"/>
<text x="443.90" y="336.10" font-size="5.8" text-anchor="start" fill="#303030" stroke="#303030" stroke-width="0.1" font-weight="normal" >ROR1 T<tspan font-size="3.6" dy="1.3">reg</tspan></text>
<rect x="478.10" y="332.70" width="4.80" height="3.80" fill="#3b9c3c"/>
<text x="486.10" y="336.10" font-size="5.8" text-anchor="start" fill="#303030" stroke="#303030" stroke-width="0.1" font-weight="normal" >CD19 T<tspan font-size="3.6" dy="1.3">reg</tspan></text>
<rect x="470.40" y="384.46" width="14.00" height="12.94" fill="#3aa9e0"/>
<line x1="477.40" y1="374.66" x2="477.40" y2="384.46" stroke="#555" stroke-width="0.8" />
<line x1="474.90" y1="374.66" x2="479.90" y2="374.66" stroke="#555" stroke-width="0.8" />
<rect x="491.10" y="375.45" width="14.00" height="21.95" fill="#c50f2d"/>
<line x1="498.10" y1="364.47" x2="498.10" y2="375.45" stroke="#555" stroke-width="0.8" />
<line x1="495.60" y1="364.47" x2="500.60" y2="364.47" stroke="#555" stroke-width="0.8" />
<line x1="442.50" y1="355.80" x2="442.50" y2="397.90" stroke="#1e1e1e" stroke-width="1.25" />
<line x1="442.00" y1="397.40" x2="511.90" y2="397.40" stroke="#1e1e1e" stroke-width="1.25" />
<line x1="439.90" y1="397.40" x2="442.50" y2="397.40" stroke="#1e1e1e" stroke-width="0.9" />
<text x="437.00" y="399.50" font-size="6.0" text-anchor="end" fill="#303030" stroke="#303030" stroke-width="0.1" font-weight="normal" >0</text>
<line x1="439.90" y1="389.56" x2="442.50" y2="389.56" stroke="#1e1e1e" stroke-width="0.9" />
<text x="437.00" y="391.66" font-size="6.0" text-anchor="end" fill="#303030" stroke="#303030" stroke-width="0.1" font-weight="normal" >200</text>
<line x1="439.90" y1="381.72" x2="442.50" y2="381.72" stroke="#1e1e1e" stroke-width="0.9" />
<text x="437.00" y="383.82" font-size="6.0" text-anchor="end" fill="#303030" stroke="#303030" stroke-width="0.1" font-weight="normal" >400</text>
<line x1="439.90" y1="373.88" x2="442.50" y2="373.88" stroke="#1e1e1e" stroke-width="0.9" />
<text x="437.00" y="375.98" font-size="6.0" text-anchor="end" fill="#303030" stroke="#303030" stroke-width="0.1" font-weight="normal" >600</text>
<line x1="439.90" y1="366.04" x2="442.50" y2="366.04" stroke="#1e1e1e" stroke-width="0.9" />
<text x="437.00" y="368.14" font-size="6.0" text-anchor="end" fill="#303030" stroke="#303030" stroke-width="0.1" font-weight="normal" >800</text>
<line x1="439.90" y1="358.20" x2="442.50" y2="358.20" stroke="#1e1e1e" stroke-width="0.9" />
<text x="437.00" y="360.30" font-size="6.0" text-anchor="end" fill="#303030" stroke="#303030" stroke-width="0.1" font-weight="normal" >1000</text>
<line x1="456.10" y1="397.40" x2="456.10" y2="400.00" stroke="#1e1e1e" stroke-width="0.9" />
<text transform="translate(456.40,406.20) rotate(-45) scale(1.0,1)" font-size="5.7" text-anchor="end" fill="#303030" stroke="#303030" stroke-width="0.1">Placebo</text>
<line x1="477.40" y1="397.40" x2="477.40" y2="400.00" stroke="#1e1e1e" stroke-width="0.9" />
<text transform="translate(472.40,406.20) rotate(-45) scale(1.0,1)" font-size="5.7" text-anchor="end" fill="#303030" stroke="#303030" stroke-width="0.1">T cells</text>
<line x1="498.10" y1="397.40" x2="498.10" y2="400.00" stroke="#1e1e1e" stroke-width="0.9" />
<text transform="translate(488.10,406.20) rotate(-45) scale(1.0,1)" font-size="5.7" text-anchor="end" fill="#303030" stroke="#303030" stroke-width="0.1">ROR1 T<tspan font-size="3.6" dy="1.3">reg</tspan></text>
<text transform="translate(417.50,376.80) rotate(-90) scale(0.97,1)" font-size="6.3" text-anchor="middle" fill="#303030" stroke="#303030" stroke-width="0.3">IFN-γ (pg/ml)</text>
<rect x="435.90" y="428.50" width="4.80" height="3.80" fill="#c4c4c6"/>
<text x="443.90" y="431.90" font-size="5.8" text-anchor="start" fill="#303030" stroke="#303030" stroke-width="0.1" font-weight="normal" >Placebo</text>
<rect x="478.10" y="428.50" width="4.80" height="3.80" fill="#3aa9e0"/>
<text x="486.10" y="431.90" font-size="5.8" text-anchor="start" fill="#303030" stroke="#303030" stroke-width="0.1" font-weight="normal" >T cells</text>
<rect x="435.90" y="437.10" width="4.80" height="3.80" fill="#c50f2d"/>
<text x="443.90" y="440.50" font-size="5.8" text-anchor="start" fill="#303030" stroke="#303030" stroke-width="0.1" font-weight="normal" >ROR1 T<tspan font-size="3.6" dy="1.3">reg</tspan></text>
</svg></div></body></html>
